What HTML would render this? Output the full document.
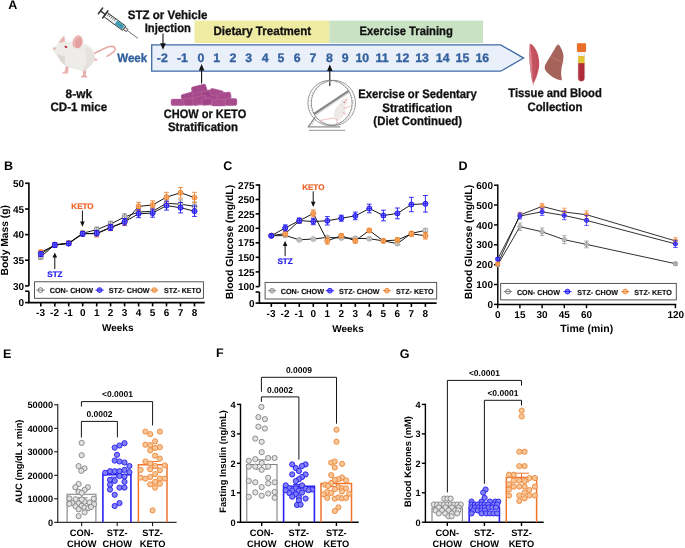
<!DOCTYPE html>
<html lang="en"><head><meta charset="utf-8"><title>Figure</title>
<style>html,body{margin:0;padding:0;background:#fff}svg{display:block}text{font-family:"Liberation Sans",Arial,sans-serif;text-rendering:geometricPrecision}</style>
</head><body>
<svg width="685" height="548" viewBox="0 0 685 548">
<rect width="685" height="548" fill="#fff"/>
<g id="panelA">
<text x="8.2" y="8.9" font-size="12.5" text-anchor="start" fill="#000" stroke="#000" stroke-width="0" font-weight="bold" >A</text>
<rect x="194.5" y="20.6" width="134.8" height="22.4" fill="#EFEBA3"/>
<rect x="329.3" y="20.6" width="153.7" height="22.4" fill="#C9E2C4"/>
<text x="262.3" y="34.8" font-size="12.3" text-anchor="middle" fill="#111" stroke="#111" stroke-width="0.3" font-weight="bold" textLength="97.8" lengthAdjust="spacingAndGlyphs" >Dietary Treatment</text>
<text x="406.2" y="34.8" font-size="12.3" text-anchor="middle" fill="#111" stroke="#111" stroke-width="0.3" font-weight="bold" textLength="93.2" lengthAdjust="spacingAndGlyphs" >Exercise Training</text>
<path d="M151.7 44.9 H500.7 L523.6 58.1 L500.7 71.2 H151.7 Z" fill="#EAF0FA" stroke="#3E6AA6" stroke-width="1.3" stroke-linejoin="miter"/>
<text x="132.2" y="62.3" font-size="12.3" text-anchor="middle" fill="#33609E" stroke="#33609E" stroke-width="0.3" font-weight="bold" textLength="30" lengthAdjust="spacingAndGlyphs" >Week</text>
<text x="162.3" y="62.3" font-size="12.3" text-anchor="middle" fill="#33609E" stroke="#33609E" stroke-width="0.3" font-weight="bold" >-2</text>
<text x="182.4" y="62.3" font-size="12.3" text-anchor="middle" fill="#33609E" stroke="#33609E" stroke-width="0.3" font-weight="bold" >-1</text>
<text x="200.8" y="62.3" font-size="12.3" text-anchor="middle" fill="#33609E" stroke="#33609E" stroke-width="0.3" font-weight="bold" >0</text>
<text x="216.7" y="62.3" font-size="12.3" text-anchor="middle" fill="#33609E" stroke="#33609E" stroke-width="0.3" font-weight="bold" >1</text>
<text x="232.8" y="62.3" font-size="12.3" text-anchor="middle" fill="#33609E" stroke="#33609E" stroke-width="0.3" font-weight="bold" >2</text>
<text x="248.7" y="62.3" font-size="12.3" text-anchor="middle" fill="#33609E" stroke="#33609E" stroke-width="0.3" font-weight="bold" >3</text>
<text x="265.1" y="62.3" font-size="12.3" text-anchor="middle" fill="#33609E" stroke="#33609E" stroke-width="0.3" font-weight="bold" >4</text>
<text x="281" y="62.3" font-size="12.3" text-anchor="middle" fill="#33609E" stroke="#33609E" stroke-width="0.3" font-weight="bold" >5</text>
<text x="297.1" y="62.3" font-size="12.3" text-anchor="middle" fill="#33609E" stroke="#33609E" stroke-width="0.3" font-weight="bold" >6</text>
<text x="313" y="62.3" font-size="12.3" text-anchor="middle" fill="#33609E" stroke="#33609E" stroke-width="0.3" font-weight="bold" >7</text>
<text x="329.3" y="62.3" font-size="12.3" text-anchor="middle" fill="#33609E" stroke="#33609E" stroke-width="0.3" font-weight="bold" >8</text>
<text x="345.2" y="62.3" font-size="12.3" text-anchor="middle" fill="#33609E" stroke="#33609E" stroke-width="0.3" font-weight="bold" >9</text>
<text x="362.3" y="62.3" font-size="12.3" text-anchor="middle" fill="#33609E" stroke="#33609E" stroke-width="0.3" font-weight="bold" >10</text>
<text x="382" y="62.3" font-size="12.3" text-anchor="middle" fill="#33609E" stroke="#33609E" stroke-width="0.3" font-weight="bold" >11</text>
<text x="402.4" y="62.3" font-size="12.3" text-anchor="middle" fill="#33609E" stroke="#33609E" stroke-width="0.3" font-weight="bold" >12</text>
<text x="422.1" y="62.3" font-size="12.3" text-anchor="middle" fill="#33609E" stroke="#33609E" stroke-width="0.3" font-weight="bold" >13</text>
<text x="442.7" y="62.3" font-size="12.3" text-anchor="middle" fill="#33609E" stroke="#33609E" stroke-width="0.3" font-weight="bold" >14</text>
<text x="462.4" y="62.3" font-size="12.3" text-anchor="middle" fill="#33609E" stroke="#33609E" stroke-width="0.3" font-weight="bold" >15</text>
<text x="482.3" y="62.3" font-size="12.3" text-anchor="middle" fill="#33609E" stroke="#33609E" stroke-width="0.3" font-weight="bold" >16</text>
<text x="167.6" y="18.9" font-size="12.3" text-anchor="middle" fill="#111" stroke="#111" stroke-width="0.3" font-weight="bold" textLength="79.6" lengthAdjust="spacingAndGlyphs" >STZ or Vehicle</text>
<text x="167.8" y="32.2" font-size="12.3" text-anchor="middle" fill="#111" stroke="#111" stroke-width="0.3" font-weight="bold" textLength="46.1" lengthAdjust="spacingAndGlyphs" >Injection</text>
<line x1="163" y1="33.5" x2="163" y2="44.3" stroke="#111" stroke-width="1.1"/><path d="M163 49.8 L165.8 43.3 L160.2 43.3 Z" fill="#111"/>
<text x="78.8" y="97.7" font-size="12.3" text-anchor="middle" fill="#111" stroke="#111" stroke-width="0.3" font-weight="bold" textLength="26.5" lengthAdjust="spacingAndGlyphs" >8-wk</text>
<text x="78.8" y="111.1" font-size="12.3" text-anchor="middle" fill="#111" stroke="#111" stroke-width="0.3" font-weight="bold" textLength="56.7" lengthAdjust="spacingAndGlyphs" >CD-1 mice</text>
<line x1="201.6" y1="83.4" x2="201.6" y2="69.6" stroke="#111" stroke-width="1.1"/><path d="M201.6 64.1 L204.4 70.6 L198.79999999999998 70.6 Z" fill="#111"/>
<text x="205" y="118.4" font-size="12.3" text-anchor="middle" fill="#111" stroke="#111" stroke-width="0.3" font-weight="bold" textLength="82.4" lengthAdjust="spacingAndGlyphs" >CHOW or KETO</text>
<text x="203" y="131" font-size="12.3" text-anchor="middle" fill="#111" stroke="#111" stroke-width="0.3" font-weight="bold" textLength="70.1" lengthAdjust="spacingAndGlyphs" >Stratification</text>
<line x1="329.8" y1="86" x2="329.8" y2="70.0" stroke="#111" stroke-width="1.1"/><path d="M329.8 64.5 L332.6 71.0 L327.0 71.0 Z" fill="#111"/>
<text x="417.5" y="98.2" font-size="12.3" text-anchor="middle" fill="#111" stroke="#111" stroke-width="0.3" font-weight="bold" textLength="118.5" lengthAdjust="spacingAndGlyphs" >Exercise or Sedentary</text>
<text x="417.3" y="111.6" font-size="12.3" text-anchor="middle" fill="#111" stroke="#111" stroke-width="0.3" font-weight="bold" textLength="70.1" lengthAdjust="spacingAndGlyphs" >Stratification</text>
<text x="417.7" y="125.2" font-size="12.3" text-anchor="middle" fill="#111" stroke="#111" stroke-width="0.3" font-weight="bold" textLength="88.7" lengthAdjust="spacingAndGlyphs" >(Diet Continued)</text>
<text x="555" y="97" font-size="12.3" text-anchor="middle" fill="#111" stroke="#111" stroke-width="0.3" font-weight="bold" textLength="93.5" lengthAdjust="spacingAndGlyphs" >Tissue and Blood</text>
<text x="554.9" y="110.8" font-size="12.3" text-anchor="middle" fill="#111" stroke="#111" stroke-width="0.3" font-weight="bold" textLength="54.9" lengthAdjust="spacingAndGlyphs" >Collection</text>
<g id="mouse">
<path d="M93.5 53.8 C99.5 51.2 104.5 47.6 109.8 46.5 C113.8 45.8 115.8 47.6 115 50.1 C114.3 52.4 110.5 54.2 107 56.2" fill="none" stroke="#E7A7A4" stroke-width="1.6" stroke-linecap="round"/>
<path d="M93 57.6 L97.6 59.2 L96.8 60.8 L92.6 60.2 Z" fill="#E9AEAB"/>
<path d="M66 63.5 L65 71.2 L62 72.8 L62.6 73.6 L68 73.6 L68.8 65 Z" fill="#E9B0AD"/>
<path d="M82.4 67.5 L83.2 74.8 L80.8 76.6 L81.4 77.6 L87.8 77.6 L85.8 75 L86.4 67.5 Z" fill="#E9B0AD"/>
<path d="M57.6 43.8 C59 40 61.8 36.8 64.4 35.2 C65.5 37.6 65.9 40.2 65.6 42.6 Z" fill="#ECE6E2"/>
<path d="M59 43.2 C60.3 40.2 62.2 37.8 63.9 36.5 C64.6 38.4 64.8 40.4 64.5 42 Z" fill="#E9B1AE"/>
<path d="M53.4 48.2 C54.8 45.6 58.6 43.2 63.2 42.1 C68 41 73 41.2 77.6 42.6 C83.5 43 89.5 45 92.6 49.2 C95.6 53.6 95.6 60.4 92 64.6 C89.4 67.6 86.5 69.6 84.4 71 C81 70.6 76 69.4 72 68.4 C69 67.6 67 66.6 65.6 65.8 C62 63.6 59.6 60 57.8 56.4 C55.4 54.4 52.8 51.6 53.4 48.2 Z" fill="#EEECE9"/>
<path d="M84 47 C89 47.5 93.2 50.5 94.2 55.5 C95 60 92.5 64.4 89 67 C87.4 68.4 85.8 69.6 84.4 71 C83.4 70.9 82.4 70.7 81.4 70.5 C85 67.5 87 63 86.6 58 C86.3 53.5 85.5 50 84 47 Z" fill="#E5E2DE"/>
<path d="M56.5 53.6 C59 55.6 62.5 56.2 65.5 55.4 C64.2 58.5 64.4 62.6 65.6 65.8 C62 63.6 59.6 60 57.8 56.4 Z" fill="#DCD8D3"/>
<ellipse cx="77.6" cy="42.2" rx="5.1" ry="7" transform="rotate(16 77.6 42.2)" fill="#EBB5B2"/>
<ellipse cx="78.4" cy="43" rx="3.4" ry="5.3" transform="rotate(16 78.4 43)" fill="#E4A09E"/>
<path d="M73.6 47.5 C76 49.6 79.6 49.8 82.4 48" fill="none" stroke="#EEECE9" stroke-width="1.6"/>
<ellipse cx="54.5" cy="48.6" rx="1.5" ry="1.1" fill="#E8AAAA"/>
<path d="M56 49.5 L50.5 46.2 M56 50 L50 49.2 M57.5 50.5 L61 52.5" stroke="#e4e0dc" stroke-width="0.3" fill="none"/>
<ellipse cx="65.9" cy="46.9" rx="1.5" ry="1.05" transform="rotate(25 65.9 46.9)" fill="#B8283A"/>
</g>
<g id="syringe" transform="translate(100.5 10.9) rotate(36.3)">
<line x1="0" y1="-3.6" x2="0" y2="3.6" stroke="#333" stroke-width="1.5" stroke-linecap="round"/>
<line x1="0" y1="0" x2="6" y2="0" stroke="#333" stroke-width="1.4"/>
<rect x="6.2" y="-2.7" width="23.2" height="5.4" rx="0.6" fill="#EEF0F0" stroke="#333" stroke-width="0.9"/>
<rect x="19.2" y="-2.1" width="9" height="4.2" fill="#3B9AB4"/>
<line x1="5.9" y1="-4.5" x2="5.9" y2="4.5" stroke="#333" stroke-width="1.5" stroke-linecap="round"/>
<path d="M8.5 -2.6 v2.4 M10.6 -2.6 v2.4 M12.7 -2.6 v2.4 M14.8 -2.6 v2.4 M16.9 -2.6 v2.4" stroke="#333" stroke-width="0.65"/>
<rect x="29.5" y="-1.5" width="3.6" height="3" rx="0.6" fill="#E8E8E8" stroke="#333" stroke-width="0.8"/>
<line x1="33.1" y1="0" x2="46.4" y2="0" stroke="#444" stroke-width="0.7"/>
</g>
<g id="chow"><polygon points="172.2,100.3 182.3,99.5 181.6,95.6 192.1,91.8 192.1,87.4 204.7,84.5 207.3,90.6 211.7,89.7 223.2,92.5 229.5,93.2 230.6,98.8 236.0,99.5 236.0,104.8 172.2,104.8" fill="#A2468A" stroke="#A2468A" stroke-width="0.8" stroke-linejoin="round"/><rect x="191.8" y="85.5" width="14.6" height="7.0" rx="1.6" transform="rotate(-15 199.1 89.0)" fill="#A5488A" stroke="#B96AA4" stroke-width="0.5"/><rect x="210.0" y="89.5" width="13.1" height="6.8" rx="1.6" transform="rotate(14 216.6 92.9)" fill="#A84B8D" stroke="#B96AA4" stroke-width="0.5"/><rect x="181.3" y="93.4" width="11.7" height="5.6" rx="1.6" transform="rotate(-15 187.2 96.2)" fill="#A5488A" stroke="#B96AA4" stroke-width="0.5"/><rect x="201.2" y="91.3" width="9.3" height="7.0" rx="1.6" transform="rotate(-10 205.9 94.8)" fill="#A04386" stroke="#B96AA4" stroke-width="0.5"/><rect x="217.0" y="93.0" width="14.0" height="6.4" rx="1.6" transform="rotate(-12 224.0 96.2)" fill="#A84B8D" stroke="#B96AA4" stroke-width="0.5"/><rect x="171.0" y="99.1" width="13.1" height="6.4" rx="1.6" transform="rotate(0 177.6 102.3)" fill="#AB4F90" stroke="#B96AA4" stroke-width="0.5"/><rect x="183.8" y="98.6" width="9.9" height="6.8" rx="1.6" transform="rotate(0 188.7 102.0)" fill="#A5488A" stroke="#B96AA4" stroke-width="0.5"/><rect x="192.8" y="96.1" width="14.0" height="8.2" rx="1.6" transform="rotate(-15 199.8 100.2)" fill="#A84B8D" stroke="#B96AA4" stroke-width="0.5"/><rect x="202.3" y="98.8" width="9.3" height="6.1" rx="1.6" transform="rotate(-8 207.0 101.8)" fill="#A04386" stroke="#B96AA4" stroke-width="0.5"/><rect x="211.7" y="99.2" width="14.0" height="6.8" rx="1.6" transform="rotate(0 218.7 102.6)" fill="#AB4F90" stroke="#B96AA4" stroke-width="0.5"/><rect x="225.2" y="98.6" width="11.7" height="6.8" rx="1.6" transform="rotate(0 231.0 102.0)" fill="#A84B8D" stroke="#B96AA4" stroke-width="0.5"/></g>
<g id="wheel" fill="none" stroke="#777">
<path d="M315.2 117.2 L308.2 126.9 H340.4" stroke="#8e8e8e" stroke-width="1.3" stroke-linejoin="round"/>
<path d="M316.6 117.8 L310.6 126.2" stroke="#b5b5b5" stroke-width="0.6"/>
<path d="M308.9 130.4 H345.1" stroke="#a8a8a8" stroke-width="1.1"/>
<circle cx="331.7" cy="102.9" r="21.3" stroke="#b0b0b0" stroke-width="2" stroke-dasharray="0.45 2.1"/>
<ellipse cx="330" cy="102.9" rx="22.1" ry="22.6" stroke-width="0.75"/>
<ellipse cx="333.4" cy="102.9" rx="22.1" ry="22.6" stroke-width="0.75"/>
<path d="M335.7 118.9 C331 117.2 325 120.2 319.3 120.4" stroke="#E8A3A0" stroke-width="0.7"/>
<ellipse cx="339.5" cy="112.2" rx="4.6" ry="8.6" transform="rotate(24 339.5 112.2)" fill="#EDEAE7" stroke="#d5d1cd" stroke-width="0.3"/>
<ellipse cx="343.8" cy="102.8" rx="3" ry="3.9" transform="rotate(35 343.8 102.8)" fill="#EFECE9" stroke="#d5d1cd" stroke-width="0.3"/>
<ellipse cx="346.3" cy="99.9" rx="1" ry="1.5" transform="rotate(30 346.3 99.9)" fill="#EDC2BF" stroke="none"/>
<path d="M343.5 108.4 L347 107.6 L350.6 105.8 M342.6 112.4 L345.6 113.4 L344.6 115 M336.6 118.6 L337.4 123.2" stroke="#E8A3A0" stroke-width="0.7"/>
<circle cx="344.2" cy="102.4" r="0.55" fill="#B52536" stroke="none"/>
<path d="M313.8 114.1 L348.6 90.9" stroke="#858585" stroke-width="2.3"/>
<path d="M314.3 115.9 L349.6 92.3" stroke="#b0b0b0" stroke-width="0.7"/>
</g>
<g id="tissue">
<path d="M529.9 43.8 C529.2 50 529.3 60 530.2 68 C530.9 74 532 80 532.7 83 L533.1 85.9 L533.8 83 C536 79 538.6 72 539.2 65.5 C539.6 58 537.5 50.5 533 45.5 C532 44.5 530.8 43.9 529.9 43.8 Z" fill="#C5535F"/>
<path d="M529.9 43.8 C529.2 50 529.3 60 530.2 68 C530.9 74 532 80 532.7 83 C532.4 72 532 54 529.9 43.8 Z" fill="#D98690"/>
<path d="M535 50 C537 56 537.6 66 535.6 76" fill="none" stroke="#B84450" stroke-width="0.5"/>
<path d="M532.6 82.6 L533.1 86.3 L533.9 82.6 Z" fill="#ddd5d5"/>
<path d="M558 44.3 C559.5 45 562 49 563.2 53.7 C563.8 57 563.2 61 562.4 64 C561.4 68 561 72 561.2 75 C561.4 77.5 561.8 79 562 80.2 C559.5 80 556 79 553.3 77.4 C550 75.5 546.5 72.5 545 69.5 C544.2 67.5 545 64.5 546.5 62.5 C549 58.5 552 53 554.4 49.4 C555.6 47.3 556.8 45.2 558 44.3 Z" fill="#A5635B"/>
<path d="M551 56.6 C555 59 559.5 61.4 564.2 62.8" fill="none" stroke="#D09572" stroke-width="0.5"/>
<rect x="578" y="50" width="6.7" height="31.3" rx="3.2" fill="#F1F1F1" stroke="#cfcfcf" stroke-width="0.4"/>
<path d="M578.2 63 H584.5 V78 A3.15 3.15 0 0 1 578.2 78 Z" fill="#B02A3A"/>
<path d="M578.2 63 H579.4 V80 A3.15 3.15 0 0 1 578.2 78 Z" fill="#C4505C"/>
<rect x="578.2" y="56" width="6.3" height="7.2" fill="#E2C233"/>
<path d="M577.8 43.2 H585.2 A0.9 0.9 0 0 1 586.1 44.1 V50.4 A1.6 1.6 0 0 1 584.5 52 H578.5 A1.6 1.6 0 0 1 576.9 50.4 V44.1 A0.9 0.9 0 0 1 577.8 43.2 Z" fill="#E96F2A"/>
</g>
</g>
<g id="panelB">
<text x="4.0" y="170.1" font-size="12.5" text-anchor="start" fill="#000" font-weight="bold" >B</text>
<path d="M28.9 182.5 V285.9 M28.9 291.2 V302.6" stroke="#000" stroke-width="1.6" fill="none"/>
<line x1="25.099999999999998" y1="183.3" x2="28.9" y2="183.3" stroke="#000" stroke-width="1.6"/>
<text x="24.1" y="186.9" font-size="10" text-anchor="end" fill="#000" font-weight="bold" >50</text>
<line x1="25.099999999999998" y1="209.0" x2="28.9" y2="209.0" stroke="#000" stroke-width="1.6"/>
<text x="24.1" y="212.6" font-size="10" text-anchor="end" fill="#000" font-weight="bold" >45</text>
<line x1="25.099999999999998" y1="234.6" x2="28.9" y2="234.6" stroke="#000" stroke-width="1.6"/>
<text x="24.1" y="238.2" font-size="10" text-anchor="end" fill="#000" font-weight="bold" >40</text>
<line x1="25.099999999999998" y1="260.2" x2="28.9" y2="260.2" stroke="#000" stroke-width="1.6"/>
<text x="24.1" y="263.8" font-size="10" text-anchor="end" fill="#000" font-weight="bold" >35</text>
<line x1="25.099999999999998" y1="285.9" x2="28.9" y2="285.9" stroke="#000" stroke-width="1.6"/>
<text x="24.1" y="289.5" font-size="10" text-anchor="end" fill="#000" font-weight="bold" >30</text>
<line x1="25.099999999999998" y1="291.2" x2="28.9" y2="291.2" stroke="#000" stroke-width="1.6"/>
<line x1="25.099999999999998" y1="302.6" x2="28.9" y2="302.6" stroke="#000" stroke-width="1.6"/>
<text x="24.1" y="306.2" font-size="10" text-anchor="end" fill="#000" font-weight="bold" >0</text>
<line x1="28.099999999999998" y1="302.6" x2="204.7" y2="302.6" stroke="#000" stroke-width="1.6"/>
<line x1="40.8" y1="302.6" x2="40.8" y2="306.4" stroke="#000" stroke-width="1.6"/>
<text x="40.5" y="316.3" font-size="10" text-anchor="middle" fill="#000" font-weight="bold" >-3</text>
<line x1="54.8" y1="302.6" x2="54.8" y2="306.4" stroke="#000" stroke-width="1.6"/>
<text x="54.5" y="316.3" font-size="10" text-anchor="middle" fill="#000" font-weight="bold" >-2</text>
<line x1="68.7" y1="302.6" x2="68.7" y2="306.4" stroke="#000" stroke-width="1.6"/>
<text x="68.4" y="316.3" font-size="10" text-anchor="middle" fill="#000" font-weight="bold" >-1</text>
<line x1="82.7" y1="302.6" x2="82.7" y2="306.4" stroke="#000" stroke-width="1.6"/>
<text x="82.7" y="316.3" font-size="10" text-anchor="middle" fill="#000" font-weight="bold" >0</text>
<line x1="96.7" y1="302.6" x2="96.7" y2="306.4" stroke="#000" stroke-width="1.6"/>
<text x="96.7" y="316.3" font-size="10" text-anchor="middle" fill="#000" font-weight="bold" >1</text>
<line x1="110.6" y1="302.6" x2="110.6" y2="306.4" stroke="#000" stroke-width="1.6"/>
<text x="110.6" y="316.3" font-size="10" text-anchor="middle" fill="#000" font-weight="bold" >2</text>
<line x1="124.6" y1="302.6" x2="124.6" y2="306.4" stroke="#000" stroke-width="1.6"/>
<text x="124.6" y="316.3" font-size="10" text-anchor="middle" fill="#000" font-weight="bold" >3</text>
<line x1="138.6" y1="302.6" x2="138.6" y2="306.4" stroke="#000" stroke-width="1.6"/>
<text x="138.6" y="316.3" font-size="10" text-anchor="middle" fill="#000" font-weight="bold" >4</text>
<line x1="152.6" y1="302.6" x2="152.6" y2="306.4" stroke="#000" stroke-width="1.6"/>
<text x="152.6" y="316.3" font-size="10" text-anchor="middle" fill="#000" font-weight="bold" >5</text>
<line x1="166.5" y1="302.6" x2="166.5" y2="306.4" stroke="#000" stroke-width="1.6"/>
<text x="166.5" y="316.3" font-size="10" text-anchor="middle" fill="#000" font-weight="bold" >6</text>
<line x1="180.5" y1="302.6" x2="180.5" y2="306.4" stroke="#000" stroke-width="1.6"/>
<text x="180.5" y="316.3" font-size="10" text-anchor="middle" fill="#000" font-weight="bold" >7</text>
<line x1="194.5" y1="302.6" x2="194.5" y2="306.4" stroke="#000" stroke-width="1.6"/>
<text x="194.5" y="316.3" font-size="10" text-anchor="middle" fill="#000" font-weight="bold" >8</text>
<text x="117.7" y="330.5" font-size="10" text-anchor="middle" fill="#000" font-weight="bold" >Weeks</text>
<text x="8.5" y="240.2" font-size="10.3" text-anchor="middle" fill="#000" font-weight="bold" transform="rotate(-90 8.5 240.2)">Body Mass (g)</text>
<path d="M40.8 257.0 L54.8 244.6 L68.7 243.2 L82.7 233.2 L96.7 229.7 L110.6 224.0 L124.6 217.0 L138.6 212.0 L152.6 211.3 L166.5 203.3 L180.5 204.2 L194.5 206.3" fill="none" stroke="#0c0c0c" stroke-width="0.95"/><circle cx="40.8" cy="257.0" r="2.5" fill="#f4f4f4" stroke="#8c8c8c" stroke-width="1.0"/><path d="M38.3 257.0 H43.3" stroke="#8c8c8c" stroke-width="0.7" fill="none"/><path d="M40.8 254.8 V259.2 M38.4 254.8 H43.2 M38.4 259.2 H43.2" stroke="#8c8c8c" stroke-width="0.9" fill="none"/><circle cx="54.8" cy="244.6" r="2.5" fill="#f4f4f4" stroke="#8c8c8c" stroke-width="1.0"/><path d="M52.3 244.6 H57.3" stroke="#8c8c8c" stroke-width="0.7" fill="none"/><path d="M54.8 242.5 V246.7 M52.4 242.5 H57.2 M52.4 246.7 H57.2" stroke="#8c8c8c" stroke-width="0.9" fill="none"/><circle cx="68.7" cy="243.2" r="2.5" fill="#f4f4f4" stroke="#8c8c8c" stroke-width="1.0"/><path d="M66.2 243.2 H71.2" stroke="#8c8c8c" stroke-width="0.7" fill="none"/><path d="M68.7 241.2 V245.2 M66.3 241.2 H71.1 M66.3 245.2 H71.1" stroke="#8c8c8c" stroke-width="0.9" fill="none"/><circle cx="82.7" cy="233.2" r="2.5" fill="#f4f4f4" stroke="#8c8c8c" stroke-width="1.0"/><path d="M80.2 233.2 H85.2" stroke="#8c8c8c" stroke-width="0.7" fill="none"/><path d="M82.7 231.1 V235.3 M80.3 231.1 H85.1 M80.3 235.3 H85.1" stroke="#8c8c8c" stroke-width="0.9" fill="none"/><circle cx="96.7" cy="229.7" r="2.5" fill="#f4f4f4" stroke="#8c8c8c" stroke-width="1.0"/><path d="M94.2 229.7 H99.2" stroke="#8c8c8c" stroke-width="0.7" fill="none"/><path d="M96.7 227.1 V232.3 M94.3 227.1 H99.1 M94.3 232.3 H99.1" stroke="#8c8c8c" stroke-width="0.9" fill="none"/><circle cx="110.6" cy="224.0" r="2.5" fill="#f4f4f4" stroke="#8c8c8c" stroke-width="1.0"/><path d="M108.1 224.0 H113.1" stroke="#8c8c8c" stroke-width="0.7" fill="none"/><path d="M110.6 221.2 V226.8 M108.2 221.2 H113.0 M108.2 226.8 H113.0" stroke="#8c8c8c" stroke-width="0.9" fill="none"/><circle cx="124.6" cy="217.0" r="2.5" fill="#f4f4f4" stroke="#8c8c8c" stroke-width="1.0"/><path d="M122.1 217.0 H127.1" stroke="#8c8c8c" stroke-width="0.7" fill="none"/><path d="M124.6 213.8 V220.2 M122.2 213.8 H127.0 M122.2 220.2 H127.0" stroke="#8c8c8c" stroke-width="0.9" fill="none"/><circle cx="138.6" cy="212.0" r="2.5" fill="#f4f4f4" stroke="#8c8c8c" stroke-width="1.0"/><path d="M136.1 212.0 H141.1" stroke="#8c8c8c" stroke-width="0.7" fill="none"/><path d="M138.6 208.5 V215.5 M136.2 208.5 H141.0 M136.2 215.5 H141.0" stroke="#8c8c8c" stroke-width="0.9" fill="none"/><circle cx="152.6" cy="211.3" r="2.5" fill="#f4f4f4" stroke="#8c8c8c" stroke-width="1.0"/><path d="M150.1 211.3 H155.1" stroke="#8c8c8c" stroke-width="0.7" fill="none"/><path d="M152.6 207.7 V214.9 M150.2 207.7 H155.0 M150.2 214.9 H155.0" stroke="#8c8c8c" stroke-width="0.9" fill="none"/><circle cx="166.5" cy="203.3" r="2.5" fill="#f4f4f4" stroke="#8c8c8c" stroke-width="1.0"/><path d="M164.0 203.3 H169.0" stroke="#8c8c8c" stroke-width="0.7" fill="none"/><path d="M166.5 199.3 V207.3 M164.1 199.3 H168.9 M164.1 207.3 H168.9" stroke="#8c8c8c" stroke-width="0.9" fill="none"/><circle cx="180.5" cy="204.2" r="2.5" fill="#f4f4f4" stroke="#8c8c8c" stroke-width="1.0"/><path d="M178.0 204.2 H183.0" stroke="#8c8c8c" stroke-width="0.7" fill="none"/><path d="M180.5 199.9 V208.5 M178.1 199.9 H182.9 M178.1 208.5 H182.9" stroke="#8c8c8c" stroke-width="0.9" fill="none"/><circle cx="194.5" cy="206.3" r="2.5" fill="#f4f4f4" stroke="#8c8c8c" stroke-width="1.0"/><path d="M192.0 206.3 H197.0" stroke="#8c8c8c" stroke-width="0.7" fill="none"/><path d="M194.5 202.0 V210.6 M192.1 202.0 H196.9 M192.1 210.6 H196.9" stroke="#8c8c8c" stroke-width="0.9" fill="none"/>
<path d="M40.8 252.3 L54.8 245.2 L68.7 243.2 L82.7 233.6 L96.7 233.8 L110.6 227.6 L124.6 222.3 L138.6 206.4 L152.6 205.0 L166.5 197.1 L180.5 192.8 L194.5 197.5" fill="none" stroke="#0c0c0c" stroke-width="0.95"/><circle cx="40.8" cy="252.3" r="2.5" fill="#f7c396" stroke="#ee8530" stroke-width="1.0"/><path d="M38.3 252.3 H43.3" stroke="#ee8530" stroke-width="0.7" fill="none"/><path d="M40.8 249.9 V254.7 M38.4 249.9 H43.2 M38.4 254.7 H43.2" stroke="#ee8530" stroke-width="0.9" fill="none"/><circle cx="54.8" cy="245.2" r="2.5" fill="#f7c396" stroke="#ee8530" stroke-width="1.0"/><path d="M52.3 245.2 H57.3" stroke="#ee8530" stroke-width="0.7" fill="none"/><path d="M54.8 242.9 V247.5 M52.4 242.9 H57.2 M52.4 247.5 H57.2" stroke="#ee8530" stroke-width="0.9" fill="none"/><circle cx="68.7" cy="243.2" r="2.5" fill="#f7c396" stroke="#ee8530" stroke-width="1.0"/><path d="M66.2 243.2 H71.2" stroke="#ee8530" stroke-width="0.7" fill="none"/><path d="M68.7 241.1 V245.3 M66.3 241.1 H71.1 M66.3 245.3 H71.1" stroke="#ee8530" stroke-width="0.9" fill="none"/><circle cx="82.7" cy="233.6" r="2.5" fill="#f7c396" stroke="#ee8530" stroke-width="1.0"/><path d="M80.2 233.6 H85.2" stroke="#ee8530" stroke-width="0.7" fill="none"/><path d="M82.7 231.2 V236.0 M80.3 231.2 H85.1 M80.3 236.0 H85.1" stroke="#ee8530" stroke-width="0.9" fill="none"/><circle cx="96.7" cy="233.8" r="2.5" fill="#f7c396" stroke="#ee8530" stroke-width="1.0"/><path d="M94.2 233.8 H99.2" stroke="#ee8530" stroke-width="0.7" fill="none"/><path d="M96.7 230.6 V237.0 M94.3 230.6 H99.1 M94.3 237.0 H99.1" stroke="#ee8530" stroke-width="0.9" fill="none"/><circle cx="110.6" cy="227.6" r="2.5" fill="#f7c396" stroke="#ee8530" stroke-width="1.0"/><path d="M108.1 227.6 H113.1" stroke="#ee8530" stroke-width="0.7" fill="none"/><path d="M110.6 224.5 V230.7 M108.2 224.5 H113.0 M108.2 230.7 H113.0" stroke="#ee8530" stroke-width="0.9" fill="none"/><circle cx="124.6" cy="222.3" r="2.5" fill="#f7c396" stroke="#ee8530" stroke-width="1.0"/><path d="M122.1 222.3 H127.1" stroke="#ee8530" stroke-width="0.7" fill="none"/><path d="M124.6 218.9 V225.7 M122.2 218.9 H127.0 M122.2 225.7 H127.0" stroke="#ee8530" stroke-width="0.9" fill="none"/><circle cx="138.6" cy="206.4" r="2.5" fill="#f7c396" stroke="#ee8530" stroke-width="1.0"/><path d="M136.1 206.4 H141.1" stroke="#ee8530" stroke-width="0.7" fill="none"/><path d="M138.6 202.3 V210.5 M136.2 202.3 H141.0 M136.2 210.5 H141.0" stroke="#ee8530" stroke-width="0.9" fill="none"/><circle cx="152.6" cy="205.0" r="2.5" fill="#f7c396" stroke="#ee8530" stroke-width="1.0"/><path d="M150.1 205.0 H155.1" stroke="#ee8530" stroke-width="0.7" fill="none"/><path d="M152.6 200.8 V209.2 M150.2 200.8 H155.0 M150.2 209.2 H155.0" stroke="#ee8530" stroke-width="0.9" fill="none"/><circle cx="166.5" cy="197.1" r="2.5" fill="#f7c396" stroke="#ee8530" stroke-width="1.0"/><path d="M164.0 197.1 H169.0" stroke="#ee8530" stroke-width="0.7" fill="none"/><path d="M166.5 192.3 V201.9 M164.1 192.3 H168.9 M164.1 201.9 H168.9" stroke="#ee8530" stroke-width="0.9" fill="none"/><circle cx="180.5" cy="192.8" r="2.5" fill="#f7c396" stroke="#ee8530" stroke-width="1.0"/><path d="M178.0 192.8 H183.0" stroke="#ee8530" stroke-width="0.7" fill="none"/><path d="M180.5 187.5 V198.1 M178.1 187.5 H182.9 M178.1 198.1 H182.9" stroke="#ee8530" stroke-width="0.9" fill="none"/><circle cx="194.5" cy="197.5" r="2.5" fill="#f7c396" stroke="#ee8530" stroke-width="1.0"/><path d="M192.0 197.5 H197.0" stroke="#ee8530" stroke-width="0.7" fill="none"/><path d="M194.5 192.3 V202.7 M192.1 192.3 H196.9 M192.1 202.7 H196.9" stroke="#ee8530" stroke-width="0.9" fill="none"/>
<path d="M40.8 254.0 L54.8 245.0 L68.7 243.5 L82.7 233.8 L96.7 233.2 L110.6 227.4 L124.6 221.8 L138.6 213.8 L152.6 213.1 L166.5 205.6 L180.5 207.7 L194.5 211.2" fill="none" stroke="#0c0c0c" stroke-width="0.95"/><circle cx="40.8" cy="254.0" r="2.5" fill="#807cf7" stroke="#2016f2" stroke-width="1.0"/><path d="M38.3 254.0 H43.3" stroke="#2016f2" stroke-width="0.7" fill="none"/><path d="M40.8 251.6 V256.4 M38.4 251.6 H43.2 M38.4 256.4 H43.2" stroke="#2016f2" stroke-width="0.9" fill="none"/><circle cx="54.8" cy="245.0" r="2.5" fill="#807cf7" stroke="#2016f2" stroke-width="1.0"/><path d="M52.3 245.0 H57.3" stroke="#2016f2" stroke-width="0.7" fill="none"/><path d="M54.8 242.6 V247.4 M52.4 242.6 H57.2 M52.4 247.4 H57.2" stroke="#2016f2" stroke-width="0.9" fill="none"/><circle cx="68.7" cy="243.5" r="2.5" fill="#807cf7" stroke="#2016f2" stroke-width="1.0"/><path d="M66.2 243.5 H71.2" stroke="#2016f2" stroke-width="0.7" fill="none"/><path d="M68.7 241.4 V245.6 M66.3 241.4 H71.1 M66.3 245.6 H71.1" stroke="#2016f2" stroke-width="0.9" fill="none"/><circle cx="82.7" cy="233.8" r="2.5" fill="#807cf7" stroke="#2016f2" stroke-width="1.0"/><path d="M80.2 233.8 H85.2" stroke="#2016f2" stroke-width="0.7" fill="none"/><path d="M82.7 231.5 V236.1 M80.3 231.5 H85.1 M80.3 236.1 H85.1" stroke="#2016f2" stroke-width="0.9" fill="none"/><circle cx="96.7" cy="233.2" r="2.5" fill="#807cf7" stroke="#2016f2" stroke-width="1.0"/><path d="M94.2 233.2 H99.2" stroke="#2016f2" stroke-width="0.7" fill="none"/><path d="M96.7 230.5 V235.9 M94.3 230.5 H99.1 M94.3 235.9 H99.1" stroke="#2016f2" stroke-width="0.9" fill="none"/><circle cx="110.6" cy="227.4" r="2.5" fill="#807cf7" stroke="#2016f2" stroke-width="1.0"/><path d="M108.1 227.4 H113.1" stroke="#2016f2" stroke-width="0.7" fill="none"/><path d="M110.6 224.4 V230.4 M108.2 224.4 H113.0 M108.2 230.4 H113.0" stroke="#2016f2" stroke-width="0.9" fill="none"/><circle cx="124.6" cy="221.8" r="2.5" fill="#807cf7" stroke="#2016f2" stroke-width="1.0"/><path d="M122.1 221.8 H127.1" stroke="#2016f2" stroke-width="0.7" fill="none"/><path d="M124.6 218.5 V225.1 M122.2 218.5 H127.0 M122.2 225.1 H127.0" stroke="#2016f2" stroke-width="0.9" fill="none"/><circle cx="138.6" cy="213.8" r="2.5" fill="#807cf7" stroke="#2016f2" stroke-width="1.0"/><path d="M136.1 213.8 H141.1" stroke="#2016f2" stroke-width="0.7" fill="none"/><path d="M138.6 209.9 V217.7 M136.2 209.9 H141.0 M136.2 217.7 H141.0" stroke="#2016f2" stroke-width="0.9" fill="none"/><circle cx="152.6" cy="213.1" r="2.5" fill="#807cf7" stroke="#2016f2" stroke-width="1.0"/><path d="M150.1 213.1 H155.1" stroke="#2016f2" stroke-width="0.7" fill="none"/><path d="M152.6 209.0 V217.2 M150.2 209.0 H155.0 M150.2 217.2 H155.0" stroke="#2016f2" stroke-width="0.9" fill="none"/><circle cx="166.5" cy="205.6" r="2.5" fill="#807cf7" stroke="#2016f2" stroke-width="1.0"/><path d="M164.0 205.6 H169.0" stroke="#2016f2" stroke-width="0.7" fill="none"/><path d="M166.5 201.1 V210.1 M164.1 201.1 H168.9 M164.1 210.1 H168.9" stroke="#2016f2" stroke-width="0.9" fill="none"/><circle cx="180.5" cy="207.7" r="2.5" fill="#807cf7" stroke="#2016f2" stroke-width="1.0"/><path d="M178.0 207.7 H183.0" stroke="#2016f2" stroke-width="0.7" fill="none"/><path d="M180.5 202.5 V212.9 M178.1 202.5 H182.9 M178.1 212.9 H182.9" stroke="#2016f2" stroke-width="0.9" fill="none"/><circle cx="194.5" cy="211.2" r="2.5" fill="#807cf7" stroke="#2016f2" stroke-width="1.0"/><path d="M192.0 211.2 H197.0" stroke="#2016f2" stroke-width="0.7" fill="none"/><path d="M194.5 206.0 V216.4 M192.1 206.0 H196.9 M192.1 216.4 H196.9" stroke="#2016f2" stroke-width="0.9" fill="none"/>
<text x="82.5" y="208.7" font-size="8.1" text-anchor="middle" fill="#f0642a" font-weight="bold" stroke="#f0642a" stroke-width="0.2">KETO</text>
<line x1="82.4" y1="210.6" x2="82.4" y2="222.60000000000002" stroke="#111" stroke-width="1.0"/><path d="M82.4 226.8 L84.7 221.60000000000002 L80.10000000000001 221.60000000000002 Z" fill="#111"/>
<text x="54.9" y="276.7" font-size="8.1" text-anchor="middle" fill="#241cf0" font-weight="bold" stroke="#241cf0" stroke-width="0.2">STZ</text>
<line x1="54.8" y1="269" x2="54.8" y2="256.6" stroke="#111" stroke-width="1.0"/><path d="M54.8 252.4 L57.099999999999994 257.6 L52.5 257.6 Z" fill="#111"/>
<rect x="34.5" y="281.8" width="168.9" height="16.5" fill="#fff" stroke="#444" stroke-width="0.9"/><circle cx="40.5" cy="290.1" r="2.4" fill="#f4f4f4" stroke="#707070" stroke-width="0.9"/><line x1="36.3" y1="290.1" x2="44.7" y2="290.1" stroke="#707070" stroke-width="0.9"/><text x="49.7" y="292.9" font-size="7.3" font-weight="bold" fill="#111" stroke="#111" stroke-width="0.15" textLength="43.3" lengthAdjust="spacingAndGlyphs">CON- CHOW</text><circle cx="99.6" cy="290.1" r="2.4" fill="#807cf7" stroke="#2016f2" stroke-width="0.9"/><line x1="95.4" y1="290.1" x2="103.8" y2="290.1" stroke="#2016f2" stroke-width="0.9"/><text x="108.8" y="292.9" font-size="7.3" font-weight="bold" fill="#111" stroke="#111" stroke-width="0.15" textLength="40.7" lengthAdjust="spacingAndGlyphs">STZ- CHOW</text><circle cx="154.3" cy="290.1" r="2.4" fill="#f7c396" stroke="#ee8530" stroke-width="0.9"/><line x1="150.1" y1="290.1" x2="158.5" y2="290.1" stroke="#ee8530" stroke-width="0.9"/><text x="164.0" y="292.9" font-size="7.3" font-weight="bold" fill="#111" stroke="#111" stroke-width="0.15" textLength="37.3" lengthAdjust="spacingAndGlyphs">STZ- KETO</text>
</g>
<g id="panelC">
<text x="223.2" y="170.0" font-size="12.5" text-anchor="start" fill="#000" font-weight="bold" >C</text>
<path d="M259.4 184.2 V286.6 M259.4 292 V303.1" stroke="#000" stroke-width="1.6" fill="none"/>
<line x1="255.59999999999997" y1="185.0" x2="259.4" y2="185.0" stroke="#000" stroke-width="1.6"/>
<text x="254.6" y="188.6" font-size="10" text-anchor="end" fill="#000" font-weight="bold" >275</text>
<line x1="255.59999999999997" y1="199.5" x2="259.4" y2="199.5" stroke="#000" stroke-width="1.6"/>
<text x="254.6" y="203.1" font-size="10" text-anchor="end" fill="#000" font-weight="bold" >250</text>
<line x1="255.59999999999997" y1="213.9" x2="259.4" y2="213.9" stroke="#000" stroke-width="1.6"/>
<text x="254.6" y="217.5" font-size="10" text-anchor="end" fill="#000" font-weight="bold" >225</text>
<line x1="255.59999999999997" y1="228.3" x2="259.4" y2="228.3" stroke="#000" stroke-width="1.6"/>
<text x="254.6" y="231.9" font-size="10" text-anchor="end" fill="#000" font-weight="bold" >200</text>
<line x1="255.59999999999997" y1="242.8" x2="259.4" y2="242.8" stroke="#000" stroke-width="1.6"/>
<text x="254.6" y="246.4" font-size="10" text-anchor="end" fill="#000" font-weight="bold" >175</text>
<line x1="255.59999999999997" y1="257.3" x2="259.4" y2="257.3" stroke="#000" stroke-width="1.6"/>
<text x="254.6" y="260.9" font-size="10" text-anchor="end" fill="#000" font-weight="bold" >150</text>
<line x1="255.59999999999997" y1="271.9" x2="259.4" y2="271.9" stroke="#000" stroke-width="1.6"/>
<text x="254.6" y="275.5" font-size="10" text-anchor="end" fill="#000" font-weight="bold" >125</text>
<line x1="255.59999999999997" y1="286.6" x2="259.4" y2="286.6" stroke="#000" stroke-width="1.6"/>
<text x="254.6" y="290.2" font-size="10" text-anchor="end" fill="#000" font-weight="bold" >100</text>
<line x1="255.59999999999997" y1="292" x2="259.4" y2="292" stroke="#000" stroke-width="1.6"/>
<line x1="255.59999999999997" y1="303.1" x2="259.4" y2="303.1" stroke="#000" stroke-width="1.6"/>
<text x="254.6" y="306.7" font-size="10" text-anchor="end" fill="#000" font-weight="bold" >0</text>
<line x1="258.59999999999997" y1="303.1" x2="436.6" y2="303.1" stroke="#000" stroke-width="1.6"/>
<line x1="271.3" y1="303.1" x2="271.3" y2="306.9" stroke="#000" stroke-width="1.6"/>
<text x="271.0" y="316.7" font-size="10" text-anchor="middle" fill="#000" font-weight="bold" >-3</text>
<line x1="285.3" y1="303.1" x2="285.3" y2="306.9" stroke="#000" stroke-width="1.6"/>
<text x="285.0" y="316.7" font-size="10" text-anchor="middle" fill="#000" font-weight="bold" >-2</text>
<line x1="299.3" y1="303.1" x2="299.3" y2="306.9" stroke="#000" stroke-width="1.6"/>
<text x="299.0" y="316.7" font-size="10" text-anchor="middle" fill="#000" font-weight="bold" >-1</text>
<line x1="313.3" y1="303.1" x2="313.3" y2="306.9" stroke="#000" stroke-width="1.6"/>
<text x="313.3" y="316.7" font-size="10" text-anchor="middle" fill="#000" font-weight="bold" >0</text>
<line x1="327.3" y1="303.1" x2="327.3" y2="306.9" stroke="#000" stroke-width="1.6"/>
<text x="327.3" y="316.7" font-size="10" text-anchor="middle" fill="#000" font-weight="bold" >1</text>
<line x1="341.3" y1="303.1" x2="341.3" y2="306.9" stroke="#000" stroke-width="1.6"/>
<text x="341.3" y="316.7" font-size="10" text-anchor="middle" fill="#000" font-weight="bold" >2</text>
<line x1="355.3" y1="303.1" x2="355.3" y2="306.9" stroke="#000" stroke-width="1.6"/>
<text x="355.3" y="316.7" font-size="10" text-anchor="middle" fill="#000" font-weight="bold" >3</text>
<line x1="369.3" y1="303.1" x2="369.3" y2="306.9" stroke="#000" stroke-width="1.6"/>
<text x="369.3" y="316.7" font-size="10" text-anchor="middle" fill="#000" font-weight="bold" >4</text>
<line x1="383.4" y1="303.1" x2="383.4" y2="306.9" stroke="#000" stroke-width="1.6"/>
<text x="383.4" y="316.7" font-size="10" text-anchor="middle" fill="#000" font-weight="bold" >5</text>
<line x1="397.4" y1="303.1" x2="397.4" y2="306.9" stroke="#000" stroke-width="1.6"/>
<text x="397.4" y="316.7" font-size="10" text-anchor="middle" fill="#000" font-weight="bold" >6</text>
<line x1="411.4" y1="303.1" x2="411.4" y2="306.9" stroke="#000" stroke-width="1.6"/>
<text x="411.4" y="316.7" font-size="10" text-anchor="middle" fill="#000" font-weight="bold" >7</text>
<line x1="425.4" y1="303.1" x2="425.4" y2="306.9" stroke="#000" stroke-width="1.6"/>
<text x="425.4" y="316.7" font-size="10" text-anchor="middle" fill="#000" font-weight="bold" >8</text>
<text x="348.0" y="332.0" font-size="10" text-anchor="middle" fill="#000" font-weight="bold" >Weeks</text>
<text x="232.6" y="242.0" font-size="10.4" text-anchor="middle" fill="#000" font-weight="bold" transform="rotate(-90 232.6 242)">Blood Glucose (mg/dL)</text>
<path d="M271.3 235.8 L285.3 235.5 L299.3 239.8 L313.3 239.0 L327.3 237.4 L341.3 238.0 L355.3 238.3 L369.3 238.7 L383.4 240.9 L397.4 243.6 L411.4 233.4 L425.4 230.4" fill="none" stroke="#0c0c0c" stroke-width="0.95"/><circle cx="271.3" cy="235.8" r="2.5" fill="#d8d8d8" stroke="#a4a4a4" stroke-width="0.8"/><path d="M271.3 234.3 V237.3 M268.9 234.3 H273.7 M268.9 237.3 H273.7" stroke="#a4a4a4" stroke-width="0.7000000000000001" fill="none"/><circle cx="285.3" cy="235.5" r="2.5" fill="#d8d8d8" stroke="#a4a4a4" stroke-width="0.8"/><path d="M285.3 234.0 V237.0 M282.9 234.0 H287.7 M282.9 237.0 H287.7" stroke="#a4a4a4" stroke-width="0.7000000000000001" fill="none"/><circle cx="299.3" cy="239.8" r="2.5" fill="#d8d8d8" stroke="#a4a4a4" stroke-width="0.8"/><path d="M299.3 238.8 V240.8 M296.9 238.8 H301.7 M296.9 240.8 H301.7" stroke="#a4a4a4" stroke-width="0.7000000000000001" fill="none"/><circle cx="313.3" cy="239.0" r="2.5" fill="#d8d8d8" stroke="#a4a4a4" stroke-width="0.8"/><path d="M313.3 238.0 V240.0 M310.9 238.0 H315.7 M310.9 240.0 H315.7" stroke="#a4a4a4" stroke-width="0.7000000000000001" fill="none"/><circle cx="327.3" cy="237.4" r="2.5" fill="#d8d8d8" stroke="#a4a4a4" stroke-width="0.8"/><path d="M327.3 236.2 V238.6 M324.9 236.2 H329.7 M324.9 238.6 H329.7" stroke="#a4a4a4" stroke-width="0.7000000000000001" fill="none"/><circle cx="341.3" cy="238.0" r="2.5" fill="#d8d8d8" stroke="#a4a4a4" stroke-width="0.8"/><path d="M341.3 236.8 V239.2 M338.9 236.8 H343.7 M338.9 239.2 H343.7" stroke="#a4a4a4" stroke-width="0.7000000000000001" fill="none"/><circle cx="355.3" cy="238.3" r="2.5" fill="#d8d8d8" stroke="#a4a4a4" stroke-width="0.8"/><path d="M355.3 237.1 V239.5 M352.9 237.1 H357.7 M352.9 239.5 H357.7" stroke="#a4a4a4" stroke-width="0.7000000000000001" fill="none"/><circle cx="369.3" cy="238.7" r="2.5" fill="#d8d8d8" stroke="#a4a4a4" stroke-width="0.8"/><path d="M369.3 237.5 V239.9 M366.9 237.5 H371.7 M366.9 239.9 H371.7" stroke="#a4a4a4" stroke-width="0.7000000000000001" fill="none"/><circle cx="383.4" cy="240.9" r="2.5" fill="#d8d8d8" stroke="#a4a4a4" stroke-width="0.8"/><path d="M383.4 239.7 V242.1 M381.0 239.7 H385.8 M381.0 242.1 H385.8" stroke="#a4a4a4" stroke-width="0.7000000000000001" fill="none"/><circle cx="397.4" cy="243.6" r="2.5" fill="#d8d8d8" stroke="#a4a4a4" stroke-width="0.8"/><path d="M397.4 242.3 V244.9 M395.0 242.3 H399.8 M395.0 244.9 H399.8" stroke="#a4a4a4" stroke-width="0.7000000000000001" fill="none"/><circle cx="411.4" cy="233.4" r="2.5" fill="#d8d8d8" stroke="#a4a4a4" stroke-width="0.8"/><path d="M411.4 231.9 V234.9 M409.0 231.9 H413.8 M409.0 234.9 H413.8" stroke="#a4a4a4" stroke-width="0.7000000000000001" fill="none"/><circle cx="425.4" cy="230.4" r="2.5" fill="#d8d8d8" stroke="#a4a4a4" stroke-width="0.8"/><path d="M425.4 228.6 V232.2 M423.0 228.6 H427.8 M423.0 232.2 H427.8" stroke="#a4a4a4" stroke-width="0.7000000000000001" fill="none"/>
<path d="M271.3 235.6 L285.3 233.7 L299.3 220.8 L313.3 213.4 L327.3 240.9 L341.3 235.7 L355.3 240.9 L369.3 230.4 L383.4 240.9 L397.4 240.0 L411.4 233.9 L425.4 235.7" fill="none" stroke="#0c0c0c" stroke-width="0.95"/><circle cx="271.3" cy="235.6" r="2.5" fill="#f7c396" stroke="#ee8530" stroke-width="1.0"/><path d="M268.8 235.6 H273.8" stroke="#ee8530" stroke-width="0.7" fill="none"/><path d="M271.3 233.8 V237.4 M268.9 233.8 H273.7 M268.9 237.4 H273.7" stroke="#ee8530" stroke-width="0.9" fill="none"/><circle cx="285.3" cy="233.7" r="2.5" fill="#f7c396" stroke="#ee8530" stroke-width="1.0"/><path d="M282.8 233.7 H287.8" stroke="#ee8530" stroke-width="0.7" fill="none"/><path d="M285.3 231.2 V236.2 M282.9 231.2 H287.7 M282.9 236.2 H287.7" stroke="#ee8530" stroke-width="0.9" fill="none"/><circle cx="299.3" cy="220.8" r="2.5" fill="#f7c396" stroke="#ee8530" stroke-width="1.0"/><path d="M296.8 220.8 H301.8" stroke="#ee8530" stroke-width="0.7" fill="none"/><path d="M299.3 218.5 V223.1 M296.9 218.5 H301.7 M296.9 223.1 H301.7" stroke="#ee8530" stroke-width="0.9" fill="none"/><circle cx="313.3" cy="213.4" r="2.5" fill="#f7c396" stroke="#ee8530" stroke-width="1.0"/><path d="M310.8 213.4 H315.8" stroke="#ee8530" stroke-width="0.7" fill="none"/><path d="M313.3 209.9 V216.9 M310.9 209.9 H315.7 M310.9 216.9 H315.7" stroke="#ee8530" stroke-width="0.9" fill="none"/><circle cx="327.3" cy="240.9" r="2.5" fill="#f7c396" stroke="#ee8530" stroke-width="1.0"/><path d="M324.8 240.9 H329.8" stroke="#ee8530" stroke-width="0.7" fill="none"/><path d="M327.3 237.7 V244.1 M324.9 237.7 H329.7 M324.9 244.1 H329.7" stroke="#ee8530" stroke-width="0.9" fill="none"/><circle cx="341.3" cy="235.7" r="2.5" fill="#f7c396" stroke="#ee8530" stroke-width="1.0"/><path d="M338.8 235.7 H343.8" stroke="#ee8530" stroke-width="0.7" fill="none"/><path d="M341.3 233.9 V237.5 M338.9 233.9 H343.7 M338.9 237.5 H343.7" stroke="#ee8530" stroke-width="0.9" fill="none"/><circle cx="355.3" cy="240.9" r="2.5" fill="#f7c396" stroke="#ee8530" stroke-width="1.0"/><path d="M352.8 240.9 H357.8" stroke="#ee8530" stroke-width="0.7" fill="none"/><path d="M355.3 238.9 V242.9 M352.9 238.9 H357.7 M352.9 242.9 H357.7" stroke="#ee8530" stroke-width="0.9" fill="none"/><circle cx="369.3" cy="230.4" r="2.5" fill="#f7c396" stroke="#ee8530" stroke-width="1.0"/><path d="M366.8 230.4 H371.8" stroke="#ee8530" stroke-width="0.7" fill="none"/><path d="M369.3 228.8 V232.0 M366.9 228.8 H371.7 M366.9 232.0 H371.7" stroke="#ee8530" stroke-width="0.9" fill="none"/><circle cx="383.4" cy="240.9" r="2.5" fill="#f7c396" stroke="#ee8530" stroke-width="1.0"/><path d="M380.9 240.9 H385.9" stroke="#ee8530" stroke-width="0.7" fill="none"/><path d="M383.4 239.3 V242.5 M381.0 239.3 H385.8 M381.0 242.5 H385.8" stroke="#ee8530" stroke-width="0.9" fill="none"/><circle cx="397.4" cy="240.0" r="2.5" fill="#f7c396" stroke="#ee8530" stroke-width="1.0"/><path d="M394.9 240.0 H399.9" stroke="#ee8530" stroke-width="0.7" fill="none"/><path d="M397.4 237.8 V242.2 M395.0 237.8 H399.8 M395.0 242.2 H399.8" stroke="#ee8530" stroke-width="0.9" fill="none"/><circle cx="411.4" cy="233.9" r="2.5" fill="#f7c396" stroke="#ee8530" stroke-width="1.0"/><path d="M408.9 233.9 H413.9" stroke="#ee8530" stroke-width="0.7" fill="none"/><path d="M411.4 231.5 V236.3 M409.0 231.5 H413.8 M409.0 236.3 H413.8" stroke="#ee8530" stroke-width="0.9" fill="none"/><circle cx="425.4" cy="235.7" r="2.5" fill="#f7c396" stroke="#ee8530" stroke-width="1.0"/><path d="M422.9 235.7 H427.9" stroke="#ee8530" stroke-width="0.7" fill="none"/><path d="M425.4 232.4 V239.0 M423.0 232.4 H427.8 M423.0 239.0 H427.8" stroke="#ee8530" stroke-width="0.9" fill="none"/>
<path d="M271.3 235.8 L285.3 227.9 L299.3 220.6 L313.3 221.5 L327.3 220.8 L341.3 218.2 L355.3 215.9 L369.3 208.5 L383.4 215.5 L397.4 213.4 L411.4 204.5 L425.4 203.8" fill="none" stroke="#0c0c0c" stroke-width="0.95"/><circle cx="271.3" cy="235.8" r="2.5" fill="#807cf7" stroke="#2016f2" stroke-width="1.0"/><path d="M268.8 235.8 H273.8" stroke="#2016f2" stroke-width="0.7" fill="none"/><path d="M271.3 234.3 V237.3 M268.9 234.3 H273.7 M268.9 237.3 H273.7" stroke="#2016f2" stroke-width="0.9" fill="none"/><circle cx="285.3" cy="227.9" r="2.5" fill="#807cf7" stroke="#2016f2" stroke-width="1.0"/><path d="M282.8 227.9 H287.8" stroke="#2016f2" stroke-width="0.7" fill="none"/><path d="M285.3 224.9 V230.9 M282.9 224.9 H287.7 M282.9 230.9 H287.7" stroke="#2016f2" stroke-width="0.9" fill="none"/><circle cx="299.3" cy="220.6" r="2.5" fill="#807cf7" stroke="#2016f2" stroke-width="1.0"/><path d="M296.8 220.6 H301.8" stroke="#2016f2" stroke-width="0.7" fill="none"/><path d="M299.3 218.1 V223.1 M296.9 218.1 H301.7 M296.9 223.1 H301.7" stroke="#2016f2" stroke-width="0.9" fill="none"/><circle cx="313.3" cy="221.5" r="2.5" fill="#807cf7" stroke="#2016f2" stroke-width="1.0"/><path d="M310.8 221.5 H315.8" stroke="#2016f2" stroke-width="0.7" fill="none"/><path d="M313.3 218.3 V224.7 M310.9 218.3 H315.7 M310.9 224.7 H315.7" stroke="#2016f2" stroke-width="0.9" fill="none"/><circle cx="327.3" cy="220.8" r="2.5" fill="#807cf7" stroke="#2016f2" stroke-width="1.0"/><path d="M324.8 220.8 H329.8" stroke="#2016f2" stroke-width="0.7" fill="none"/><path d="M327.3 216.6 V225.0 M324.9 216.6 H329.7 M324.9 225.0 H329.7" stroke="#2016f2" stroke-width="0.9" fill="none"/><circle cx="341.3" cy="218.2" r="2.5" fill="#807cf7" stroke="#2016f2" stroke-width="1.0"/><path d="M338.8 218.2 H343.8" stroke="#2016f2" stroke-width="0.7" fill="none"/><path d="M341.3 215.2 V221.2 M338.9 215.2 H343.7 M338.9 221.2 H343.7" stroke="#2016f2" stroke-width="0.9" fill="none"/><circle cx="355.3" cy="215.9" r="2.5" fill="#807cf7" stroke="#2016f2" stroke-width="1.0"/><path d="M352.8 215.9 H357.8" stroke="#2016f2" stroke-width="0.7" fill="none"/><path d="M355.3 212.1 V219.7 M352.9 212.1 H357.7 M352.9 219.7 H357.7" stroke="#2016f2" stroke-width="0.9" fill="none"/><circle cx="369.3" cy="208.5" r="2.5" fill="#807cf7" stroke="#2016f2" stroke-width="1.0"/><path d="M366.8 208.5 H371.8" stroke="#2016f2" stroke-width="0.7" fill="none"/><path d="M369.3 204.2 V212.8 M366.9 204.2 H371.7 M366.9 212.8 H371.7" stroke="#2016f2" stroke-width="0.9" fill="none"/><circle cx="383.4" cy="215.5" r="2.5" fill="#807cf7" stroke="#2016f2" stroke-width="1.0"/><path d="M380.9 215.5 H385.9" stroke="#2016f2" stroke-width="0.7" fill="none"/><path d="M383.4 210.2 V220.8 M381.0 210.2 H385.8 M381.0 220.8 H385.8" stroke="#2016f2" stroke-width="0.9" fill="none"/><circle cx="397.4" cy="213.4" r="2.5" fill="#807cf7" stroke="#2016f2" stroke-width="1.0"/><path d="M394.9 213.4 H399.9" stroke="#2016f2" stroke-width="0.7" fill="none"/><path d="M397.4 208.0 V218.8 M395.0 208.0 H399.8 M395.0 218.8 H399.8" stroke="#2016f2" stroke-width="0.9" fill="none"/><circle cx="411.4" cy="204.5" r="2.5" fill="#807cf7" stroke="#2016f2" stroke-width="1.0"/><path d="M408.9 204.5 H413.9" stroke="#2016f2" stroke-width="0.7" fill="none"/><path d="M411.4 197.3 V211.7 M409.0 197.3 H413.8 M409.0 211.7 H413.8" stroke="#2016f2" stroke-width="0.9" fill="none"/><circle cx="425.4" cy="203.8" r="2.5" fill="#807cf7" stroke="#2016f2" stroke-width="1.0"/><path d="M422.9 203.8 H427.9" stroke="#2016f2" stroke-width="0.7" fill="none"/><path d="M425.4 195.5 V212.1 M423.0 195.5 H427.8 M423.0 212.1 H427.8" stroke="#2016f2" stroke-width="0.9" fill="none"/>
<text x="313.3" y="189.9" font-size="8.1" text-anchor="middle" fill="#f0642a" font-weight="bold" stroke="#f0642a" stroke-width="0.2">KETO</text>
<line x1="313.2" y1="191.4" x2="313.2" y2="202.8" stroke="#111" stroke-width="1.0"/><path d="M313.2 207 L315.5 201.8 L310.9 201.8 Z" fill="#111"/>
<text x="285.1" y="263.8" font-size="8.1" text-anchor="middle" fill="#241cf0" font-weight="bold" stroke="#241cf0" stroke-width="0.2">STZ</text>
<line x1="285.1" y1="256.2" x2="285.1" y2="245.0" stroke="#111" stroke-width="1.0"/><path d="M285.1 240.8 L287.40000000000003 246.0 L282.8 246.0 Z" fill="#111"/>
<rect x="265.1" y="282.4" width="171.6" height="16.6" fill="#fff" stroke="#444" stroke-width="0.9"/><circle cx="272.1" cy="290.7" r="2.4" fill="#d4d4d4" stroke="#8c8c8c" stroke-width="0.9"/><line x1="267.9" y1="290.7" x2="276.3" y2="290.7" stroke="#8c8c8c" stroke-width="0.9"/><text x="280.7" y="293.5" font-size="7.3" font-weight="bold" fill="#111" stroke="#111" stroke-width="0.15" textLength="43.3" lengthAdjust="spacingAndGlyphs">CON- CHOW</text><circle cx="329.9" cy="290.7" r="2.4" fill="#807cf7" stroke="#2016f2" stroke-width="0.9"/><line x1="325.7" y1="290.7" x2="334.1" y2="290.7" stroke="#2016f2" stroke-width="0.9"/><text x="339.1" y="293.5" font-size="7.3" font-weight="bold" fill="#111" stroke="#111" stroke-width="0.15" textLength="40.3" lengthAdjust="spacingAndGlyphs">STZ- CHOW</text><circle cx="386.9" cy="290.7" r="2.4" fill="#f7c396" stroke="#ee8530" stroke-width="0.9"/><line x1="382.7" y1="290.7" x2="391.1" y2="290.7" stroke="#ee8530" stroke-width="0.9"/><text x="396.1" y="293.5" font-size="7.3" font-weight="bold" fill="#111" stroke="#111" stroke-width="0.15" textLength="37.5" lengthAdjust="spacingAndGlyphs">STZ- KETO</text>
</g>
<g id="panelD">
<text x="458.4" y="169.6" font-size="12.5" text-anchor="start" fill="#000" font-weight="bold" >D</text>
<path d="M497.8 184.5 V304.4" stroke="#000" stroke-width="1.45" fill="none"/>
<line x1="494.0" y1="304.4" x2="497.8" y2="304.4" stroke="#000" stroke-width="1.45"/>
<text x="493.0" y="308.0" font-size="10" text-anchor="end" fill="#000" font-weight="bold" >0</text>
<line x1="494.0" y1="284.5" x2="497.8" y2="284.5" stroke="#000" stroke-width="1.45"/>
<text x="493.0" y="288.1" font-size="10" text-anchor="end" fill="#000" font-weight="bold" >100</text>
<line x1="494.0" y1="264.7" x2="497.8" y2="264.7" stroke="#000" stroke-width="1.45"/>
<text x="493.0" y="268.3" font-size="10" text-anchor="end" fill="#000" font-weight="bold" >200</text>
<line x1="494.0" y1="244.8" x2="497.8" y2="244.8" stroke="#000" stroke-width="1.45"/>
<text x="493.0" y="248.4" font-size="10" text-anchor="end" fill="#000" font-weight="bold" >300</text>
<line x1="494.0" y1="224.9" x2="497.8" y2="224.9" stroke="#000" stroke-width="1.45"/>
<text x="493.0" y="228.5" font-size="10" text-anchor="end" fill="#000" font-weight="bold" >400</text>
<line x1="494.0" y1="205.0" x2="497.8" y2="205.0" stroke="#000" stroke-width="1.45"/>
<text x="493.0" y="208.6" font-size="10" text-anchor="end" fill="#000" font-weight="bold" >500</text>
<line x1="494.0" y1="185.2" x2="497.8" y2="185.2" stroke="#000" stroke-width="1.45"/>
<text x="493.0" y="188.8" font-size="10" text-anchor="end" fill="#000" font-weight="bold" >600</text>
<line x1="497.075" y1="304.4" x2="676.3" y2="304.4" stroke="#000" stroke-width="1.45"/>
<line x1="497.7" y1="304.4" x2="497.7" y2="308.2" stroke="#000" stroke-width="1.45"/>
<text x="497.7" y="318.1" font-size="10" text-anchor="middle" fill="#000" font-weight="bold" >0</text>
<line x1="519.9" y1="304.4" x2="519.9" y2="308.2" stroke="#000" stroke-width="1.45"/>
<text x="519.9" y="318.1" font-size="10" text-anchor="middle" fill="#000" font-weight="bold" >15</text>
<line x1="542.1" y1="304.4" x2="542.1" y2="308.2" stroke="#000" stroke-width="1.45"/>
<text x="542.1" y="318.1" font-size="10" text-anchor="middle" fill="#000" font-weight="bold" >30</text>
<line x1="564.3" y1="304.4" x2="564.3" y2="308.2" stroke="#000" stroke-width="1.45"/>
<text x="564.3" y="318.1" font-size="10" text-anchor="middle" fill="#000" font-weight="bold" >45</text>
<line x1="586.5" y1="304.4" x2="586.5" y2="308.2" stroke="#000" stroke-width="1.45"/>
<text x="586.5" y="318.1" font-size="10" text-anchor="middle" fill="#000" font-weight="bold" >60</text>
<line x1="675.4" y1="304.4" x2="675.4" y2="308.2" stroke="#000" stroke-width="1.45"/>
<text x="684.2" y="318.1" font-size="10" text-anchor="end" fill="#000" font-weight="bold" >120</text>
<text x="586.7" y="332.0" font-size="10.5" text-anchor="middle" fill="#000" font-weight="bold" >Time (min)</text>
<text x="471.5" y="242.0" font-size="10.4" text-anchor="middle" fill="#000" font-weight="bold" transform="rotate(-90 471.5 242)">Blood Glucose (mg/dL)</text>
<path d="M497.7 264.9 L519.9 226.7 L542.1 231.8 L564.3 239.7 L586.5 244.4 L675.4 263.7" fill="none" stroke="#0c0c0c" stroke-width="0.85"/><circle cx="497.7" cy="264.9" r="2.1" fill="#f4f4f4" stroke="#8c8c8c" stroke-width="0.8"/><path d="M495.6 264.9 H499.8" stroke="#8c8c8c" stroke-width="0.7" fill="none"/><path d="M497.7 263.7 V266.1 M495.5 263.7 H499.9 M495.5 266.1 H499.9" stroke="#8c8c8c" stroke-width="0.7000000000000001" fill="none"/><circle cx="519.9" cy="226.7" r="2.1" fill="#f4f4f4" stroke="#8c8c8c" stroke-width="0.8"/><path d="M517.8 226.7 H522.0" stroke="#8c8c8c" stroke-width="0.7" fill="none"/><path d="M519.9 223.0 V230.4 M517.7 223.0 H522.1 M517.7 230.4 H522.1" stroke="#8c8c8c" stroke-width="0.7000000000000001" fill="none"/><circle cx="542.1" cy="231.8" r="2.1" fill="#f4f4f4" stroke="#8c8c8c" stroke-width="0.8"/><path d="M540.0 231.8 H544.2" stroke="#8c8c8c" stroke-width="0.7" fill="none"/><path d="M542.1 228.0 V235.6 M539.9 228.0 H544.3 M539.9 235.6 H544.3" stroke="#8c8c8c" stroke-width="0.7000000000000001" fill="none"/><circle cx="564.3" cy="239.7" r="2.1" fill="#f4f4f4" stroke="#8c8c8c" stroke-width="0.8"/><path d="M562.2 239.7 H566.4" stroke="#8c8c8c" stroke-width="0.7" fill="none"/><path d="M564.3 235.7 V243.7 M562.1 235.7 H566.5 M562.1 243.7 H566.5" stroke="#8c8c8c" stroke-width="0.7000000000000001" fill="none"/><circle cx="586.5" cy="244.4" r="2.1" fill="#f4f4f4" stroke="#8c8c8c" stroke-width="0.8"/><path d="M584.4 244.4 H588.6" stroke="#8c8c8c" stroke-width="0.7" fill="none"/><path d="M586.5 241.0 V247.8 M584.3 241.0 H588.7 M584.3 247.8 H588.7" stroke="#8c8c8c" stroke-width="0.7000000000000001" fill="none"/><circle cx="675.4" cy="263.7" r="2.1" fill="#f4f4f4" stroke="#8c8c8c" stroke-width="0.8"/><path d="M673.3 263.7 H677.5" stroke="#8c8c8c" stroke-width="0.7" fill="none"/><path d="M675.4 262.2 V265.2 M673.2 262.2 H677.6 M673.2 265.2 H677.6" stroke="#8c8c8c" stroke-width="0.7000000000000001" fill="none"/>
<path d="M497.7 263.7 L519.9 215.0 L542.1 206.4 L564.3 212.0 L586.5 214.7 L675.4 240.9" fill="none" stroke="#0c0c0c" stroke-width="0.85"/><circle cx="497.7" cy="263.7" r="2.1" fill="#f7c396" stroke="#ee8530" stroke-width="0.8"/><path d="M495.6 263.7 H499.8" stroke="#ee8530" stroke-width="0.7" fill="none"/><path d="M497.7 262.2 V265.2 M495.5 262.2 H499.9 M495.5 265.2 H499.9" stroke="#ee8530" stroke-width="0.7000000000000001" fill="none"/><circle cx="519.9" cy="215.0" r="2.1" fill="#f7c396" stroke="#ee8530" stroke-width="0.8"/><path d="M517.8 215.0 H522.0" stroke="#ee8530" stroke-width="0.7" fill="none"/><path d="M519.9 212.4 V217.6 M517.7 212.4 H522.1 M517.7 217.6 H522.1" stroke="#ee8530" stroke-width="0.7000000000000001" fill="none"/><circle cx="542.1" cy="206.4" r="2.1" fill="#f7c396" stroke="#ee8530" stroke-width="0.8"/><path d="M540.0 206.4 H544.2" stroke="#ee8530" stroke-width="0.7" fill="none"/><path d="M542.1 203.4 V209.4 M539.9 203.4 H544.3 M539.9 209.4 H544.3" stroke="#ee8530" stroke-width="0.7000000000000001" fill="none"/><circle cx="564.3" cy="212.0" r="2.1" fill="#f7c396" stroke="#ee8530" stroke-width="0.8"/><path d="M562.2 212.0 H566.4" stroke="#ee8530" stroke-width="0.7" fill="none"/><path d="M564.3 208.2 V215.8 M562.1 208.2 H566.5 M562.1 215.8 H566.5" stroke="#ee8530" stroke-width="0.7000000000000001" fill="none"/><circle cx="586.5" cy="214.7" r="2.1" fill="#f7c396" stroke="#ee8530" stroke-width="0.8"/><path d="M584.4 214.7 H588.6" stroke="#ee8530" stroke-width="0.7" fill="none"/><path d="M586.5 210.9 V218.5 M584.3 210.9 H588.7 M584.3 218.5 H588.7" stroke="#ee8530" stroke-width="0.7000000000000001" fill="none"/><circle cx="675.4" cy="240.9" r="2.1" fill="#f7c396" stroke="#ee8530" stroke-width="0.8"/><path d="M673.3 240.9 H677.5" stroke="#ee8530" stroke-width="0.7" fill="none"/><path d="M675.4 237.7 V244.1 M673.2 237.7 H677.6 M673.2 244.1 H677.6" stroke="#ee8530" stroke-width="0.7000000000000001" fill="none"/>
<path d="M497.7 259.1 L519.9 216.0 L542.1 211.8 L564.3 215.5 L586.5 220.4 L675.4 243.9" fill="none" stroke="#0c0c0c" stroke-width="0.85"/><circle cx="497.7" cy="259.1" r="2.1" fill="#807cf7" stroke="#2016f2" stroke-width="0.8"/><path d="M495.6 259.1 H499.8" stroke="#2016f2" stroke-width="0.7" fill="none"/><path d="M497.7 257.6 V260.6 M495.5 257.6 H499.9 M495.5 260.6 H499.9" stroke="#2016f2" stroke-width="0.7000000000000001" fill="none"/><circle cx="519.9" cy="216.0" r="2.1" fill="#807cf7" stroke="#2016f2" stroke-width="0.8"/><path d="M517.8 216.0 H522.0" stroke="#2016f2" stroke-width="0.7" fill="none"/><path d="M519.9 213.0 V219.0 M517.7 213.0 H522.1 M517.7 219.0 H522.1" stroke="#2016f2" stroke-width="0.7000000000000001" fill="none"/><circle cx="542.1" cy="211.8" r="2.1" fill="#807cf7" stroke="#2016f2" stroke-width="0.8"/><path d="M540.0 211.8 H544.2" stroke="#2016f2" stroke-width="0.7" fill="none"/><path d="M542.1 208.2 V215.4 M539.9 208.2 H544.3 M539.9 215.4 H544.3" stroke="#2016f2" stroke-width="0.7000000000000001" fill="none"/><circle cx="564.3" cy="215.5" r="2.1" fill="#807cf7" stroke="#2016f2" stroke-width="0.8"/><path d="M562.2 215.5 H566.4" stroke="#2016f2" stroke-width="0.7" fill="none"/><path d="M564.3 211.3 V219.7 M562.1 211.3 H566.5 M562.1 219.7 H566.5" stroke="#2016f2" stroke-width="0.7000000000000001" fill="none"/><circle cx="586.5" cy="220.4" r="2.1" fill="#807cf7" stroke="#2016f2" stroke-width="0.8"/><path d="M584.4 220.4 H588.6" stroke="#2016f2" stroke-width="0.7" fill="none"/><path d="M586.5 215.4 V225.4 M584.3 215.4 H588.7 M584.3 225.4 H588.7" stroke="#2016f2" stroke-width="0.7000000000000001" fill="none"/><circle cx="675.4" cy="243.9" r="2.1" fill="#807cf7" stroke="#2016f2" stroke-width="0.8"/><path d="M673.3 243.9 H677.5" stroke="#2016f2" stroke-width="0.7" fill="none"/><path d="M675.4 240.3 V247.5 M673.2 240.3 H677.6 M673.2 247.5 H677.6" stroke="#2016f2" stroke-width="0.7000000000000001" fill="none"/>
<rect x="500.7" y="283.4" width="175.6" height="16.5" fill="#fff" stroke="#444" stroke-width="0.9"/><circle cx="507.9" cy="291.6" r="2.4" fill="#f4f4f4" stroke="#707070" stroke-width="0.9"/><line x1="503.7" y1="291.6" x2="512.1" y2="291.6" stroke="#707070" stroke-width="0.9"/><text x="516.9" y="294.6" font-size="7.3" font-weight="bold" fill="#111" stroke="#111" stroke-width="0.15" textLength="43.1" lengthAdjust="spacingAndGlyphs">CON- CHOW</text><circle cx="567.5" cy="291.6" r="2.4" fill="#807cf7" stroke="#2016f2" stroke-width="0.9"/><line x1="563.3" y1="291.6" x2="571.7" y2="291.6" stroke="#2016f2" stroke-width="0.9"/><text x="577.3" y="294.6" font-size="7.3" font-weight="bold" fill="#111" stroke="#111" stroke-width="0.15" textLength="40.7" lengthAdjust="spacingAndGlyphs">STZ- CHOW</text><circle cx="625.3" cy="291.6" r="2.4" fill="#f7c396" stroke="#ee8530" stroke-width="0.9"/><line x1="621.1" y1="291.6" x2="629.5" y2="291.6" stroke="#ee8530" stroke-width="0.9"/><text x="634.3" y="294.6" font-size="7.3" font-weight="bold" fill="#111" stroke="#111" stroke-width="0.15" textLength="37.5" lengthAdjust="spacingAndGlyphs">STZ- KETO</text>
</g>
<g id="panelE">
<text x="3.0" y="357.8" font-size="12.5" text-anchor="start" fill="#000" font-weight="bold" >E</text>
<path d="M57.8 404.3 V522.3 " stroke="#000" stroke-width="1.0" fill="none"/><line x1="57.3" y1="522.3" x2="176.6" y2="522.3" stroke="#000" stroke-width="1.0"/><line x1="54.199999999999996" y1="522.3" x2="57.8" y2="522.3" stroke="#000" stroke-width="1.0"/><text x="53.0" y="525.6" font-size="9.2" text-anchor="end" fill="#000" font-weight="bold" >0</text><line x1="54.199999999999996" y1="498.8" x2="57.8" y2="498.8" stroke="#000" stroke-width="1.0"/><text x="53.0" y="502.1" font-size="9.2" text-anchor="end" fill="#000" font-weight="bold" >10000</text><line x1="54.199999999999996" y1="475.3" x2="57.8" y2="475.3" stroke="#000" stroke-width="1.0"/><text x="53.0" y="478.6" font-size="9.2" text-anchor="end" fill="#000" font-weight="bold" >20000</text><line x1="54.199999999999996" y1="451.8" x2="57.8" y2="451.8" stroke="#000" stroke-width="1.0"/><text x="53.0" y="455.1" font-size="9.2" text-anchor="end" fill="#000" font-weight="bold" >30000</text><line x1="54.199999999999996" y1="428.3" x2="57.8" y2="428.3" stroke="#000" stroke-width="1.0"/><text x="53.0" y="431.6" font-size="9.2" text-anchor="end" fill="#000" font-weight="bold" >40000</text><line x1="54.199999999999996" y1="404.8" x2="57.8" y2="404.8" stroke="#000" stroke-width="1.0"/><text x="53.0" y="408.1" font-size="9.2" text-anchor="end" fill="#000" font-weight="bold" >50000</text><line x1="81.7" y1="522.3" x2="81.7" y2="526.0999999999999" stroke="#000" stroke-width="1.0"/><text x="81.7" y="535.7" font-size="9.3" text-anchor="middle" fill="#000" font-weight="bold" >CON-</text><text x="81.7" y="546.9" font-size="9.3" text-anchor="middle" fill="#000" font-weight="bold" >CHOW</text><line x1="117.2" y1="522.3" x2="117.2" y2="526.0999999999999" stroke="#000" stroke-width="1.0"/><text x="117.2" y="535.7" font-size="9.3" text-anchor="middle" fill="#000" font-weight="bold" >STZ-</text><text x="117.2" y="546.9" font-size="9.3" text-anchor="middle" fill="#000" font-weight="bold" >CHOW</text><line x1="152.6" y1="522.3" x2="152.6" y2="526.0999999999999" stroke="#000" stroke-width="1.0"/><text x="152.6" y="535.7" font-size="9.3" text-anchor="middle" fill="#000" font-weight="bold" >STZ-</text><text x="152.6" y="546.9" font-size="9.3" text-anchor="middle" fill="#000" font-weight="bold" >KETO</text><text x="22.2" y="461.5" font-size="9.35" text-anchor="middle" fill="#000" font-weight="bold" transform="rotate(-90 22.2 461.5)">AUC (mg/dL x min)</text>
<path d="M67.1 522.3 V494.3 H95.9 V522.3" fill="none" stroke="#808080" stroke-width="1.1"/>
<path d="M81.6 490.7 V497.90000000000003 M75.6 490.7 H87.6 M75.6 497.90000000000003 H87.6" stroke="#808080" stroke-width="1" fill="none"/>
<circle cx="81.7" cy="442.9" r="2.6" fill="#e1e1e1" stroke="#828282" stroke-width="0.9"/><circle cx="81.7" cy="455.2" r="2.6" fill="#e1e1e1" stroke="#828282" stroke-width="0.9"/><circle cx="78.6" cy="466.1" r="2.6" fill="#e1e1e1" stroke="#828282" stroke-width="0.9"/><circle cx="84.6" cy="468.4" r="2.6" fill="#e1e1e1" stroke="#828282" stroke-width="0.9"/><circle cx="81.3" cy="470.8" r="2.6" fill="#e1e1e1" stroke="#828282" stroke-width="0.9"/><circle cx="78.6" cy="484.0" r="2.6" fill="#e1e1e1" stroke="#828282" stroke-width="0.9"/><circle cx="75.3" cy="487.2" r="2.6" fill="#e1e1e1" stroke="#828282" stroke-width="0.9"/><circle cx="87.9" cy="487.2" r="2.6" fill="#e1e1e1" stroke="#828282" stroke-width="0.9"/><circle cx="84.6" cy="489.9" r="2.6" fill="#e1e1e1" stroke="#828282" stroke-width="0.9"/><circle cx="78.6" cy="491.8" r="2.6" fill="#e1e1e1" stroke="#828282" stroke-width="0.9"/><circle cx="81.7" cy="492.9" r="2.6" fill="#e1e1e1" stroke="#828282" stroke-width="0.9"/><circle cx="69.4" cy="498.4" r="2.6" fill="#e1e1e1" stroke="#828282" stroke-width="0.9"/><circle cx="75.6" cy="499.2" r="2.6" fill="#e1e1e1" stroke="#828282" stroke-width="0.9"/><circle cx="93.7" cy="498.7" r="2.6" fill="#e1e1e1" stroke="#828282" stroke-width="0.9"/><circle cx="84.6" cy="501.7" r="2.6" fill="#e1e1e1" stroke="#828282" stroke-width="0.9"/><circle cx="72.3" cy="503.0" r="2.6" fill="#e1e1e1" stroke="#828282" stroke-width="0.9"/><circle cx="78.6" cy="503.3" r="2.6" fill="#e1e1e1" stroke="#828282" stroke-width="0.9"/><circle cx="89.6" cy="502.5" r="2.6" fill="#e1e1e1" stroke="#828282" stroke-width="0.9"/><circle cx="94.0" cy="504.2" r="2.6" fill="#e1e1e1" stroke="#828282" stroke-width="0.9"/><circle cx="69.4" cy="503.9" r="2.6" fill="#e1e1e1" stroke="#828282" stroke-width="0.9"/><circle cx="75.6" cy="506.3" r="2.6" fill="#e1e1e1" stroke="#828282" stroke-width="0.9"/><circle cx="81.7" cy="505.8" r="2.6" fill="#e1e1e1" stroke="#828282" stroke-width="0.9"/><circle cx="84.6" cy="507.6" r="2.6" fill="#e1e1e1" stroke="#828282" stroke-width="0.9"/><circle cx="88.2" cy="508.2" r="2.6" fill="#e1e1e1" stroke="#828282" stroke-width="0.9"/><circle cx="78.6" cy="509.3" r="2.6" fill="#e1e1e1" stroke="#828282" stroke-width="0.9"/><circle cx="84.6" cy="512.4" r="2.6" fill="#e1e1e1" stroke="#828282" stroke-width="0.9"/><circle cx="78.6" cy="516.1" r="2.6" fill="#e1e1e1" stroke="#828282" stroke-width="0.9"/><circle cx="81.7" cy="499.5" r="2.6" fill="#e1e1e1" stroke="#828282" stroke-width="0.9"/><circle cx="91.0" cy="507.0" r="2.6" fill="#e1e1e1" stroke="#828282" stroke-width="0.9"/>
<path d="M102.9 522.3 V474.6 H130.9 V522.3" fill="none" stroke="#2a22f0" stroke-width="1.6"/>
<path d="M117 472.0 V477.20000000000005 M111 472.0 H123 M111 477.20000000000005 H123" stroke="#2a22f0" stroke-width="1" fill="none"/>
<circle cx="124.5" cy="443.2" r="2.6" fill="#8280f7" stroke="#241cf0" stroke-width="0.9"/><circle cx="119.5" cy="445.5" r="2.6" fill="#8280f7" stroke="#241cf0" stroke-width="0.9"/><circle cx="114.7" cy="447.6" r="2.6" fill="#8280f7" stroke="#241cf0" stroke-width="0.9"/><circle cx="117.0" cy="454.8" r="2.6" fill="#8280f7" stroke="#241cf0" stroke-width="0.9"/><circle cx="114.7" cy="460.6" r="2.6" fill="#8280f7" stroke="#241cf0" stroke-width="0.9"/><circle cx="119.5" cy="461.5" r="2.6" fill="#8280f7" stroke="#241cf0" stroke-width="0.9"/><circle cx="124.5" cy="462.5" r="2.6" fill="#8280f7" stroke="#241cf0" stroke-width="0.9"/><circle cx="129.4" cy="466.0" r="2.6" fill="#8280f7" stroke="#241cf0" stroke-width="0.9"/><circle cx="110.0" cy="471.2" r="2.6" fill="#8280f7" stroke="#241cf0" stroke-width="0.9"/><circle cx="114.7" cy="471.2" r="2.6" fill="#8280f7" stroke="#241cf0" stroke-width="0.9"/><circle cx="119.5" cy="471.2" r="2.6" fill="#8280f7" stroke="#241cf0" stroke-width="0.9"/><circle cx="124.5" cy="469.9" r="2.6" fill="#8280f7" stroke="#241cf0" stroke-width="0.9"/><circle cx="105.2" cy="472.8" r="2.6" fill="#8280f7" stroke="#241cf0" stroke-width="0.9"/><circle cx="129.4" cy="472.2" r="2.6" fill="#8280f7" stroke="#241cf0" stroke-width="0.9"/><circle cx="119.5" cy="476.0" r="2.6" fill="#8280f7" stroke="#241cf0" stroke-width="0.9"/><circle cx="124.5" cy="476.6" r="2.6" fill="#8280f7" stroke="#241cf0" stroke-width="0.9"/><circle cx="110.0" cy="479.9" r="2.6" fill="#8280f7" stroke="#241cf0" stroke-width="0.9"/><circle cx="114.7" cy="480.9" r="2.6" fill="#8280f7" stroke="#241cf0" stroke-width="0.9"/><circle cx="124.5" cy="481.8" r="2.6" fill="#8280f7" stroke="#241cf0" stroke-width="0.9"/><circle cx="110.0" cy="484.7" r="2.6" fill="#8280f7" stroke="#241cf0" stroke-width="0.9"/><circle cx="119.5" cy="487.6" r="2.6" fill="#8280f7" stroke="#241cf0" stroke-width="0.9"/><circle cx="124.5" cy="487.6" r="2.6" fill="#8280f7" stroke="#241cf0" stroke-width="0.9"/><circle cx="110.0" cy="489.6" r="2.6" fill="#8280f7" stroke="#241cf0" stroke-width="0.9"/><circle cx="114.7" cy="494.8" r="2.6" fill="#8280f7" stroke="#241cf0" stroke-width="0.9"/><circle cx="119.5" cy="503.1" r="2.6" fill="#8280f7" stroke="#241cf0" stroke-width="0.9"/><circle cx="114.7" cy="506.0" r="2.6" fill="#8280f7" stroke="#241cf0" stroke-width="0.9"/>
<path d="M138.4 522.3 V464.8 H167 V522.3" fill="none" stroke="#f0742c" stroke-width="1.5"/>
<path d="M152.7 461.5 V468.1 M146.7 461.5 H158.7 M146.7 468.1 H158.7" stroke="#f0742c" stroke-width="1" fill="none"/>
<circle cx="145.4" cy="431.6" r="2.6" fill="#f7c696" stroke="#ee873a" stroke-width="0.9"/><circle cx="150.2" cy="434.1" r="2.6" fill="#f7c696" stroke="#ee873a" stroke-width="0.9"/><circle cx="159.9" cy="431.6" r="2.6" fill="#f7c696" stroke="#ee873a" stroke-width="0.9"/><circle cx="155.1" cy="441.3" r="2.6" fill="#f7c696" stroke="#ee873a" stroke-width="0.9"/><circle cx="145.4" cy="444.7" r="2.6" fill="#f7c696" stroke="#ee873a" stroke-width="0.9"/><circle cx="150.2" cy="445.1" r="2.6" fill="#f7c696" stroke="#ee873a" stroke-width="0.9"/><circle cx="159.9" cy="447.1" r="2.6" fill="#f7c696" stroke="#ee873a" stroke-width="0.9"/><circle cx="155.1" cy="448.0" r="2.6" fill="#f7c696" stroke="#ee873a" stroke-width="0.9"/><circle cx="150.2" cy="450.3" r="2.6" fill="#f7c696" stroke="#ee873a" stroke-width="0.9"/><circle cx="155.1" cy="455.7" r="2.6" fill="#f7c696" stroke="#ee873a" stroke-width="0.9"/><circle cx="159.9" cy="458.6" r="2.6" fill="#f7c696" stroke="#ee873a" stroke-width="0.9"/><circle cx="145.4" cy="461.5" r="2.6" fill="#f7c696" stroke="#ee873a" stroke-width="0.9"/><circle cx="150.2" cy="463.5" r="2.6" fill="#f7c696" stroke="#ee873a" stroke-width="0.9"/><circle cx="164.7" cy="465.4" r="2.6" fill="#f7c696" stroke="#ee873a" stroke-width="0.9"/><circle cx="155.1" cy="466.0" r="2.6" fill="#f7c696" stroke="#ee873a" stroke-width="0.9"/><circle cx="140.6" cy="469.9" r="2.6" fill="#f7c696" stroke="#ee873a" stroke-width="0.9"/><circle cx="150.2" cy="469.3" r="2.6" fill="#f7c696" stroke="#ee873a" stroke-width="0.9"/><circle cx="159.9" cy="470.2" r="2.6" fill="#f7c696" stroke="#ee873a" stroke-width="0.9"/><circle cx="155.1" cy="474.1" r="2.6" fill="#f7c696" stroke="#ee873a" stroke-width="0.9"/><circle cx="140.6" cy="477.6" r="2.6" fill="#f7c696" stroke="#ee873a" stroke-width="0.9"/><circle cx="145.4" cy="478.6" r="2.6" fill="#f7c696" stroke="#ee873a" stroke-width="0.9"/><circle cx="150.2" cy="477.0" r="2.6" fill="#f7c696" stroke="#ee873a" stroke-width="0.9"/><circle cx="159.9" cy="478.6" r="2.6" fill="#f7c696" stroke="#ee873a" stroke-width="0.9"/><circle cx="164.7" cy="478.6" r="2.6" fill="#f7c696" stroke="#ee873a" stroke-width="0.9"/><circle cx="155.1" cy="481.8" r="2.6" fill="#f7c696" stroke="#ee873a" stroke-width="0.9"/><circle cx="150.2" cy="484.3" r="2.6" fill="#f7c696" stroke="#ee873a" stroke-width="0.9"/><circle cx="159.9" cy="483.8" r="2.6" fill="#f7c696" stroke="#ee873a" stroke-width="0.9"/><circle cx="155.1" cy="487.6" r="2.6" fill="#f7c696" stroke="#ee873a" stroke-width="0.9"/><circle cx="152.6" cy="510.4" r="2.6" fill="#f7c696" stroke="#ee873a" stroke-width="0.9"/>
<path d="M81.4 406.6 V401.6 H152.6 V425.4" fill="none" stroke="#151515" stroke-width="1.0"/>
<path d="M81.4 437.5 V421.4 H117.4 V437.4" fill="none" stroke="#151515" stroke-width="1.0"/>
<text x="117.5" y="397.4" font-size="8.5" text-anchor="middle" fill="#000" font-weight="bold" >&lt;0.0001</text>
<text x="99.5" y="417.0" font-size="8.5" text-anchor="middle" fill="#000" font-weight="bold" >0.0002</text>
</g>
<g id="panelF">
<text x="216.0" y="357.3" font-size="12.5" text-anchor="start" fill="#000" font-weight="bold" >F</text>
<path d="M240.5 403.7 V522.2 " stroke="#000" stroke-width="1.4" fill="none"/><line x1="239.8" y1="522.2" x2="358.7" y2="522.2" stroke="#000" stroke-width="1.4"/><line x1="236.9" y1="522.2" x2="240.5" y2="522.2" stroke="#000" stroke-width="1.4"/><text x="235.7" y="525.5" font-size="9.2" text-anchor="end" fill="#000" font-weight="bold" >0</text><line x1="236.9" y1="492.8" x2="240.5" y2="492.8" stroke="#000" stroke-width="1.4"/><text x="235.7" y="496.1" font-size="9.2" text-anchor="end" fill="#000" font-weight="bold" >1</text><line x1="236.9" y1="463.3" x2="240.5" y2="463.3" stroke="#000" stroke-width="1.4"/><text x="235.7" y="466.6" font-size="9.2" text-anchor="end" fill="#000" font-weight="bold" >2</text><line x1="236.9" y1="433.9" x2="240.5" y2="433.9" stroke="#000" stroke-width="1.4"/><text x="235.7" y="437.2" font-size="9.2" text-anchor="end" fill="#000" font-weight="bold" >3</text><line x1="236.9" y1="404.4" x2="240.5" y2="404.4" stroke="#000" stroke-width="1.4"/><text x="235.7" y="407.7" font-size="9.2" text-anchor="end" fill="#000" font-weight="bold" >4</text><line x1="261.7" y1="522.2" x2="261.7" y2="526.0" stroke="#000" stroke-width="1.4"/><text x="261.7" y="535.7" font-size="9.3" text-anchor="middle" fill="#000" font-weight="bold" >CON-</text><text x="261.7" y="546.9" font-size="9.3" text-anchor="middle" fill="#000" font-weight="bold" >CHOW</text><line x1="298.9" y1="522.2" x2="298.9" y2="526.0" stroke="#000" stroke-width="1.4"/><text x="298.9" y="535.7" font-size="9.3" text-anchor="middle" fill="#000" font-weight="bold" >STZ-</text><text x="298.9" y="546.9" font-size="9.3" text-anchor="middle" fill="#000" font-weight="bold" >CHOW</text><line x1="336.4" y1="522.2" x2="336.4" y2="526.0" stroke="#000" stroke-width="1.4"/><text x="336.4" y="535.7" font-size="9.3" text-anchor="middle" fill="#000" font-weight="bold" >STZ-</text><text x="336.4" y="546.9" font-size="9.3" text-anchor="middle" fill="#000" font-weight="bold" >KETO</text><text x="226.0" y="461.4" font-size="9.35" text-anchor="middle" fill="#000" font-weight="bold" transform="rotate(-90 226 461.4)">Fasting Insulin (ng/mL)</text>
<path d="M246.8 522.2 V464.5 H277 V522.2" fill="none" stroke="#808080" stroke-width="1.1"/>
<path d="M261.8 459.9 V469.1 M255.8 459.9 H267.8 M255.8 469.1 H267.8" stroke="#808080" stroke-width="1" fill="none"/>
<circle cx="261.4" cy="406.9" r="2.6" fill="#e1e1e1" stroke="#828282" stroke-width="0.9"/><circle cx="258.4" cy="417.1" r="2.6" fill="#e1e1e1" stroke="#828282" stroke-width="0.9"/><circle cx="264.9" cy="419.2" r="2.6" fill="#e1e1e1" stroke="#828282" stroke-width="0.9"/><circle cx="258.4" cy="426.7" r="2.6" fill="#e1e1e1" stroke="#828282" stroke-width="0.9"/><circle cx="264.9" cy="428.5" r="2.6" fill="#e1e1e1" stroke="#828282" stroke-width="0.9"/><circle cx="261.7" cy="441.8" r="2.6" fill="#e1e1e1" stroke="#828282" stroke-width="0.9"/><circle cx="255.3" cy="438.6" r="2.6" fill="#e1e1e1" stroke="#828282" stroke-width="0.9"/><circle cx="261.7" cy="452.2" r="2.6" fill="#e1e1e1" stroke="#828282" stroke-width="0.9"/><circle cx="248.8" cy="460.8" r="2.6" fill="#e1e1e1" stroke="#828282" stroke-width="0.9"/><circle cx="255.3" cy="459.1" r="2.6" fill="#e1e1e1" stroke="#828282" stroke-width="0.9"/><circle cx="268.2" cy="458.0" r="2.6" fill="#e1e1e1" stroke="#828282" stroke-width="0.9"/><circle cx="274.6" cy="458.0" r="2.6" fill="#e1e1e1" stroke="#828282" stroke-width="0.9"/><circle cx="261.7" cy="462.9" r="2.6" fill="#e1e1e1" stroke="#828282" stroke-width="0.9"/><circle cx="248.8" cy="466.6" r="2.6" fill="#e1e1e1" stroke="#828282" stroke-width="0.9"/><circle cx="255.3" cy="466.6" r="2.6" fill="#e1e1e1" stroke="#828282" stroke-width="0.9"/><circle cx="268.2" cy="466.6" r="2.6" fill="#e1e1e1" stroke="#828282" stroke-width="0.9"/><circle cx="261.7" cy="469.8" r="2.6" fill="#e1e1e1" stroke="#828282" stroke-width="0.9"/><circle cx="268.2" cy="477.8" r="2.6" fill="#e1e1e1" stroke="#828282" stroke-width="0.9"/><circle cx="248.8" cy="481.0" r="2.6" fill="#e1e1e1" stroke="#828282" stroke-width="0.9"/><circle cx="255.3" cy="482.3" r="2.6" fill="#e1e1e1" stroke="#828282" stroke-width="0.9"/><circle cx="268.2" cy="483.4" r="2.6" fill="#e1e1e1" stroke="#828282" stroke-width="0.9"/><circle cx="274.6" cy="482.3" r="2.6" fill="#e1e1e1" stroke="#828282" stroke-width="0.9"/><circle cx="261.7" cy="487.1" r="2.6" fill="#e1e1e1" stroke="#828282" stroke-width="0.9"/><circle cx="255.3" cy="492.4" r="2.6" fill="#e1e1e1" stroke="#828282" stroke-width="0.9"/><circle cx="268.2" cy="493.5" r="2.6" fill="#e1e1e1" stroke="#828282" stroke-width="0.9"/><circle cx="274.6" cy="492.0" r="2.6" fill="#e1e1e1" stroke="#828282" stroke-width="0.9"/><circle cx="261.7" cy="495.7" r="2.6" fill="#e1e1e1" stroke="#828282" stroke-width="0.9"/><circle cx="248.8" cy="496.8" r="2.6" fill="#e1e1e1" stroke="#828282" stroke-width="0.9"/><circle cx="274.6" cy="497.8" r="2.6" fill="#e1e1e1" stroke="#828282" stroke-width="0.9"/>
<path d="M283.6 522.2 V486.4 H314.4 V522.2" fill="none" stroke="#2a22f0" stroke-width="1.6"/>
<path d="M299 484.59999999999997 V488.2 M293 484.59999999999997 H305 M293 488.2 H305" stroke="#2a22f0" stroke-width="1" fill="none"/>
<circle cx="292.2" cy="464.4" r="2.6" fill="#8280f7" stroke="#241cf0" stroke-width="0.9"/><circle cx="305.6" cy="464.4" r="2.6" fill="#8280f7" stroke="#241cf0" stroke-width="0.9"/><circle cx="302.0" cy="466.0" r="2.6" fill="#8280f7" stroke="#241cf0" stroke-width="0.9"/><circle cx="295.8" cy="468.0" r="2.6" fill="#8280f7" stroke="#241cf0" stroke-width="0.9"/><circle cx="298.9" cy="471.0" r="2.6" fill="#8280f7" stroke="#241cf0" stroke-width="0.9"/><circle cx="292.2" cy="474.4" r="2.6" fill="#8280f7" stroke="#241cf0" stroke-width="0.9"/><circle cx="305.6" cy="474.4" r="2.6" fill="#8280f7" stroke="#241cf0" stroke-width="0.9"/><circle cx="302.0" cy="477.0" r="2.6" fill="#8280f7" stroke="#241cf0" stroke-width="0.9"/><circle cx="298.9" cy="479.2" r="2.6" fill="#8280f7" stroke="#241cf0" stroke-width="0.9"/><circle cx="295.8" cy="481.1" r="2.6" fill="#8280f7" stroke="#241cf0" stroke-width="0.9"/><circle cx="285.8" cy="485.4" r="2.6" fill="#8280f7" stroke="#241cf0" stroke-width="0.9"/><circle cx="302.0" cy="485.4" r="2.6" fill="#8280f7" stroke="#241cf0" stroke-width="0.9"/><circle cx="289.4" cy="488.3" r="2.6" fill="#8280f7" stroke="#241cf0" stroke-width="0.9"/><circle cx="295.8" cy="488.3" r="2.6" fill="#8280f7" stroke="#241cf0" stroke-width="0.9"/><circle cx="305.6" cy="488.8" r="2.6" fill="#8280f7" stroke="#241cf0" stroke-width="0.9"/><circle cx="312.1" cy="489.5" r="2.6" fill="#8280f7" stroke="#241cf0" stroke-width="0.9"/><circle cx="285.8" cy="490.2" r="2.6" fill="#8280f7" stroke="#241cf0" stroke-width="0.9"/><circle cx="292.2" cy="490.7" r="2.6" fill="#8280f7" stroke="#241cf0" stroke-width="0.9"/><circle cx="298.9" cy="490.7" r="2.6" fill="#8280f7" stroke="#241cf0" stroke-width="0.9"/><circle cx="308.5" cy="490.2" r="2.6" fill="#8280f7" stroke="#241cf0" stroke-width="0.9"/><circle cx="289.4" cy="493.1" r="2.6" fill="#8280f7" stroke="#241cf0" stroke-width="0.9"/><circle cx="302.0" cy="492.6" r="2.6" fill="#8280f7" stroke="#241cf0" stroke-width="0.9"/><circle cx="295.8" cy="494.3" r="2.6" fill="#8280f7" stroke="#241cf0" stroke-width="0.9"/><circle cx="292.2" cy="496.7" r="2.6" fill="#8280f7" stroke="#241cf0" stroke-width="0.9"/><circle cx="298.9" cy="497.4" r="2.6" fill="#8280f7" stroke="#241cf0" stroke-width="0.9"/><circle cx="305.6" cy="498.6" r="2.6" fill="#8280f7" stroke="#241cf0" stroke-width="0.9"/><circle cx="298.9" cy="500.3" r="2.6" fill="#8280f7" stroke="#241cf0" stroke-width="0.9"/><circle cx="297.0" cy="505.0" r="2.6" fill="#8280f7" stroke="#241cf0" stroke-width="0.9"/><circle cx="300.6" cy="504.6" r="2.6" fill="#8280f7" stroke="#241cf0" stroke-width="0.9"/>
<path d="M321 522.2 V483.5 H351.5 V522.2" fill="none" stroke="#f0742c" stroke-width="1.5"/>
<path d="M336.3 480.5 V486.5 M330.3 480.5 H342.3 M330.3 486.5 H342.3" stroke="#f0742c" stroke-width="1" fill="none"/>
<circle cx="336.5" cy="429.7" r="2.6" fill="#f7c696" stroke="#ee873a" stroke-width="0.9"/><circle cx="336.5" cy="441.7" r="2.6" fill="#f7c696" stroke="#ee873a" stroke-width="0.9"/><circle cx="331.2" cy="462.7" r="2.6" fill="#f7c696" stroke="#ee873a" stroke-width="0.9"/><circle cx="334.8" cy="461.5" r="2.6" fill="#f7c696" stroke="#ee873a" stroke-width="0.9"/><circle cx="342.0" cy="463.9" r="2.6" fill="#f7c696" stroke="#ee873a" stroke-width="0.9"/><circle cx="334.8" cy="467.5" r="2.6" fill="#f7c696" stroke="#ee873a" stroke-width="0.9"/><circle cx="331.2" cy="475.1" r="2.6" fill="#f7c696" stroke="#ee873a" stroke-width="0.9"/><circle cx="342.0" cy="477.5" r="2.6" fill="#f7c696" stroke="#ee873a" stroke-width="0.9"/><circle cx="338.4" cy="479.2" r="2.6" fill="#f7c696" stroke="#ee873a" stroke-width="0.9"/><circle cx="334.8" cy="479.9" r="2.6" fill="#f7c696" stroke="#ee873a" stroke-width="0.9"/><circle cx="346.1" cy="480.4" r="2.6" fill="#f7c696" stroke="#ee873a" stroke-width="0.9"/><circle cx="331.2" cy="483.0" r="2.6" fill="#f7c696" stroke="#ee873a" stroke-width="0.9"/><circle cx="325.2" cy="484.7" r="2.6" fill="#f7c696" stroke="#ee873a" stroke-width="0.9"/><circle cx="328.1" cy="485.9" r="2.6" fill="#f7c696" stroke="#ee873a" stroke-width="0.9"/><circle cx="338.4" cy="487.1" r="2.6" fill="#f7c696" stroke="#ee873a" stroke-width="0.9"/><circle cx="342.0" cy="488.3" r="2.6" fill="#f7c696" stroke="#ee873a" stroke-width="0.9"/><circle cx="346.1" cy="488.3" r="2.6" fill="#f7c696" stroke="#ee873a" stroke-width="0.9"/><circle cx="334.8" cy="489.2" r="2.6" fill="#f7c696" stroke="#ee873a" stroke-width="0.9"/><circle cx="327.2" cy="491.9" r="2.6" fill="#f7c696" stroke="#ee873a" stroke-width="0.9"/><circle cx="331.2" cy="493.1" r="2.6" fill="#f7c696" stroke="#ee873a" stroke-width="0.9"/><circle cx="323.6" cy="494.3" r="2.6" fill="#f7c696" stroke="#ee873a" stroke-width="0.9"/><circle cx="349.2" cy="493.8" r="2.6" fill="#f7c696" stroke="#ee873a" stroke-width="0.9"/><circle cx="342.0" cy="491.4" r="2.6" fill="#f7c696" stroke="#ee873a" stroke-width="0.9"/><circle cx="327.2" cy="497.9" r="2.6" fill="#f7c696" stroke="#ee873a" stroke-width="0.9"/><circle cx="334.8" cy="498.6" r="2.6" fill="#f7c696" stroke="#ee873a" stroke-width="0.9"/><circle cx="338.4" cy="497.4" r="2.6" fill="#f7c696" stroke="#ee873a" stroke-width="0.9"/><circle cx="342.0" cy="498.3" r="2.6" fill="#f7c696" stroke="#ee873a" stroke-width="0.9"/><circle cx="346.1" cy="497.9" r="2.6" fill="#f7c696" stroke="#ee873a" stroke-width="0.9"/><circle cx="338.4" cy="507.4" r="2.6" fill="#f7c696" stroke="#ee873a" stroke-width="0.9"/><circle cx="334.8" cy="511.0" r="2.6" fill="#f7c696" stroke="#ee873a" stroke-width="0.9"/>
<path d="M261.4 391.8 V377.3 H336.5 V423.7" fill="none" stroke="#151515" stroke-width="1.0"/>
<path d="M261.4 401.8 V396.9 H298.9 V459.6" fill="none" stroke="#151515" stroke-width="1.0"/>
<text x="298.9" y="372.8" font-size="8.5" text-anchor="middle" fill="#000" font-weight="bold" >0.0009</text>
<text x="280.0" y="392.5" font-size="8.5" text-anchor="middle" fill="#000" font-weight="bold" >0.0002</text>
</g>
<g id="panelG">
<text x="399.8" y="357.6" font-size="12.5" text-anchor="start" fill="#000" font-weight="bold" >G</text>
<path d="M425.4 403.7 V522.2 " stroke="#000" stroke-width="1.4" fill="none"/><line x1="424.7" y1="522.2" x2="543.7" y2="522.2" stroke="#000" stroke-width="1.4"/><line x1="421.79999999999995" y1="522.2" x2="425.4" y2="522.2" stroke="#000" stroke-width="1.4"/><text x="420.6" y="525.5" font-size="9.2" text-anchor="end" fill="#000" font-weight="bold" >0</text><line x1="421.79999999999995" y1="492.8" x2="425.4" y2="492.8" stroke="#000" stroke-width="1.4"/><text x="420.6" y="496.1" font-size="9.2" text-anchor="end" fill="#000" font-weight="bold" >1</text><line x1="421.79999999999995" y1="463.3" x2="425.4" y2="463.3" stroke="#000" stroke-width="1.4"/><text x="420.6" y="466.6" font-size="9.2" text-anchor="end" fill="#000" font-weight="bold" >2</text><line x1="421.79999999999995" y1="433.9" x2="425.4" y2="433.9" stroke="#000" stroke-width="1.4"/><text x="420.6" y="437.2" font-size="9.2" text-anchor="end" fill="#000" font-weight="bold" >3</text><line x1="421.79999999999995" y1="404.4" x2="425.4" y2="404.4" stroke="#000" stroke-width="1.4"/><text x="420.6" y="407.7" font-size="9.2" text-anchor="end" fill="#000" font-weight="bold" >4</text><line x1="447.3" y1="522.2" x2="447.3" y2="526.0" stroke="#000" stroke-width="1.4"/><text x="447.3" y="535.7" font-size="9.3" text-anchor="middle" fill="#000" font-weight="bold" >CON-</text><text x="447.3" y="546.9" font-size="9.3" text-anchor="middle" fill="#000" font-weight="bold" >CHOW</text><line x1="484.4" y1="522.2" x2="484.4" y2="526.0" stroke="#000" stroke-width="1.4"/><text x="484.4" y="535.7" font-size="9.3" text-anchor="middle" fill="#000" font-weight="bold" >STZ-</text><text x="484.4" y="546.9" font-size="9.3" text-anchor="middle" fill="#000" font-weight="bold" >CHOW</text><line x1="521.5" y1="522.2" x2="521.5" y2="526.0" stroke="#000" stroke-width="1.4"/><text x="521.5" y="535.7" font-size="9.3" text-anchor="middle" fill="#000" font-weight="bold" >STZ-</text><text x="521.5" y="546.9" font-size="9.3" text-anchor="middle" fill="#000" font-weight="bold" >KETO</text><text x="411.0" y="461.5" font-size="9.35" text-anchor="middle" fill="#000" font-weight="bold" transform="rotate(-90 411 461.5)">Blood Ketones (mM)</text>
<path d="M432 522.2 V508 H462.4 V522.2" fill="none" stroke="#808080" stroke-width="1.1"/>
<path d="M447.2 507 V509 M441.2 507 H453.2 M441.2 509 H453.2" stroke="#808080" stroke-width="1" fill="none"/>
<circle cx="444.2" cy="498.6" r="2.6" fill="#e1e1e1" stroke="#828282" stroke-width="0.9"/><circle cx="447.4" cy="498.6" r="2.6" fill="#e1e1e1" stroke="#828282" stroke-width="0.9"/><circle cx="450.6" cy="498.6" r="2.6" fill="#e1e1e1" stroke="#828282" stroke-width="0.9"/><circle cx="433.8" cy="504.5" r="2.6" fill="#e1e1e1" stroke="#828282" stroke-width="0.9"/><circle cx="437.2" cy="504.5" r="2.6" fill="#e1e1e1" stroke="#828282" stroke-width="0.9"/><circle cx="440.5" cy="504.5" r="2.6" fill="#e1e1e1" stroke="#828282" stroke-width="0.9"/><circle cx="443.9" cy="504.5" r="2.6" fill="#e1e1e1" stroke="#828282" stroke-width="0.9"/><circle cx="447.3" cy="504.5" r="2.6" fill="#e1e1e1" stroke="#828282" stroke-width="0.9"/><circle cx="450.7" cy="504.5" r="2.6" fill="#e1e1e1" stroke="#828282" stroke-width="0.9"/><circle cx="454.0" cy="504.5" r="2.6" fill="#e1e1e1" stroke="#828282" stroke-width="0.9"/><circle cx="457.4" cy="504.5" r="2.6" fill="#e1e1e1" stroke="#828282" stroke-width="0.9"/><circle cx="460.8" cy="504.5" r="2.6" fill="#e1e1e1" stroke="#828282" stroke-width="0.9"/><circle cx="438.8" cy="507.5" r="2.6" fill="#e1e1e1" stroke="#828282" stroke-width="0.9"/><circle cx="445.5" cy="507.5" r="2.6" fill="#e1e1e1" stroke="#828282" stroke-width="0.9"/><circle cx="452.0" cy="507.5" r="2.6" fill="#e1e1e1" stroke="#828282" stroke-width="0.9"/><circle cx="458.6" cy="507.5" r="2.6" fill="#e1e1e1" stroke="#828282" stroke-width="0.9"/><circle cx="435.5" cy="510.4" r="2.6" fill="#e1e1e1" stroke="#828282" stroke-width="0.9"/><circle cx="442.0" cy="510.4" r="2.6" fill="#e1e1e1" stroke="#828282" stroke-width="0.9"/><circle cx="448.5" cy="510.4" r="2.6" fill="#e1e1e1" stroke="#828282" stroke-width="0.9"/><circle cx="455.0" cy="510.4" r="2.6" fill="#e1e1e1" stroke="#828282" stroke-width="0.9"/><circle cx="458.3" cy="510.4" r="2.6" fill="#e1e1e1" stroke="#828282" stroke-width="0.9"/><circle cx="438.8" cy="513.4" r="2.6" fill="#e1e1e1" stroke="#828282" stroke-width="0.9"/><circle cx="445.3" cy="513.4" r="2.6" fill="#e1e1e1" stroke="#828282" stroke-width="0.9"/><circle cx="451.8" cy="513.4" r="2.6" fill="#e1e1e1" stroke="#828282" stroke-width="0.9"/><circle cx="457.2" cy="513.4" r="2.6" fill="#e1e1e1" stroke="#828282" stroke-width="0.9"/><circle cx="448.5" cy="516.3" r="2.6" fill="#e1e1e1" stroke="#828282" stroke-width="0.9"/><circle cx="451.7" cy="516.3" r="2.6" fill="#e1e1e1" stroke="#828282" stroke-width="0.9"/>
<path d="M469.2 522.2 V507.4 H499.4 V522.2" fill="none" stroke="#2a22f0" stroke-width="1.6"/>
<path d="M484.3 506.2 V508.59999999999997 M478.3 506.2 H490.3 M478.3 508.59999999999997 H490.3" stroke="#2a22f0" stroke-width="1" fill="none"/>
<circle cx="485.6" cy="489.5" r="2.6" fill="#8280f7" stroke="#241cf0" stroke-width="0.9"/><circle cx="483.2" cy="492.6" r="2.6" fill="#8280f7" stroke="#241cf0" stroke-width="0.9"/><circle cx="484.6" cy="497.9" r="2.6" fill="#8280f7" stroke="#241cf0" stroke-width="0.9"/><circle cx="471.5" cy="501.6" r="2.6" fill="#8280f7" stroke="#241cf0" stroke-width="0.9"/><circle cx="481.5" cy="501.6" r="2.6" fill="#8280f7" stroke="#241cf0" stroke-width="0.9"/><circle cx="489.9" cy="501.6" r="2.6" fill="#8280f7" stroke="#241cf0" stroke-width="0.9"/><circle cx="495.2" cy="501.6" r="2.6" fill="#8280f7" stroke="#241cf0" stroke-width="0.9"/><circle cx="498.3" cy="501.6" r="2.6" fill="#8280f7" stroke="#241cf0" stroke-width="0.9"/><circle cx="471.5" cy="504.5" r="2.6" fill="#8280f7" stroke="#241cf0" stroke-width="0.9"/><circle cx="474.8" cy="504.5" r="2.6" fill="#8280f7" stroke="#241cf0" stroke-width="0.9"/><circle cx="477.9" cy="504.5" r="2.6" fill="#8280f7" stroke="#241cf0" stroke-width="0.9"/><circle cx="481.5" cy="504.5" r="2.6" fill="#8280f7" stroke="#241cf0" stroke-width="0.9"/><circle cx="484.6" cy="504.5" r="2.6" fill="#8280f7" stroke="#241cf0" stroke-width="0.9"/><circle cx="488.0" cy="504.5" r="2.6" fill="#8280f7" stroke="#241cf0" stroke-width="0.9"/><circle cx="493.5" cy="504.5" r="2.6" fill="#8280f7" stroke="#241cf0" stroke-width="0.9"/><circle cx="497.1" cy="504.5" r="2.6" fill="#8280f7" stroke="#241cf0" stroke-width="0.9"/><circle cx="471.5" cy="507.5" r="2.6" fill="#8280f7" stroke="#241cf0" stroke-width="0.9"/><circle cx="474.8" cy="507.5" r="2.6" fill="#8280f7" stroke="#241cf0" stroke-width="0.9"/><circle cx="478.4" cy="507.5" r="2.6" fill="#8280f7" stroke="#241cf0" stroke-width="0.9"/><circle cx="482.0" cy="507.5" r="2.6" fill="#8280f7" stroke="#241cf0" stroke-width="0.9"/><circle cx="485.1" cy="507.5" r="2.6" fill="#8280f7" stroke="#241cf0" stroke-width="0.9"/><circle cx="488.7" cy="507.5" r="2.6" fill="#8280f7" stroke="#241cf0" stroke-width="0.9"/><circle cx="492.3" cy="507.5" r="2.6" fill="#8280f7" stroke="#241cf0" stroke-width="0.9"/><circle cx="495.9" cy="507.5" r="2.6" fill="#8280f7" stroke="#241cf0" stroke-width="0.9"/><circle cx="473.2" cy="510.4" r="2.6" fill="#8280f7" stroke="#241cf0" stroke-width="0.9"/><circle cx="477.9" cy="510.4" r="2.6" fill="#8280f7" stroke="#241cf0" stroke-width="0.9"/><circle cx="481.5" cy="510.4" r="2.6" fill="#8280f7" stroke="#241cf0" stroke-width="0.9"/><circle cx="485.1" cy="510.4" r="2.6" fill="#8280f7" stroke="#241cf0" stroke-width="0.9"/><circle cx="471.5" cy="513.4" r="2.6" fill="#8280f7" stroke="#241cf0" stroke-width="0.9"/><circle cx="481.5" cy="513.4" r="2.6" fill="#8280f7" stroke="#241cf0" stroke-width="0.9"/><circle cx="486.3" cy="513.4" r="2.6" fill="#8280f7" stroke="#241cf0" stroke-width="0.9"/><circle cx="489.9" cy="513.4" r="2.6" fill="#8280f7" stroke="#241cf0" stroke-width="0.9"/><circle cx="493.5" cy="513.4" r="2.6" fill="#8280f7" stroke="#241cf0" stroke-width="0.9"/><circle cx="497.1" cy="513.4" r="2.6" fill="#8280f7" stroke="#241cf0" stroke-width="0.9"/>
<path d="M506.3 522.2 V477.5 H536.6 V522.2" fill="none" stroke="#f0742c" stroke-width="1.5"/>
<path d="M521.5 473.2 V481.8 M514.0 473.2 H529.0 M514.0 481.8 H529.0" stroke="#f0742c" stroke-width="1" fill="none"/>
<circle cx="521.7" cy="410.6" r="2.6" fill="#f7c696" stroke="#ee873a" stroke-width="0.9"/><circle cx="521.7" cy="416.5" r="2.6" fill="#f7c696" stroke="#ee873a" stroke-width="0.9"/><circle cx="519.3" cy="451.7" r="2.6" fill="#f7c696" stroke="#ee873a" stroke-width="0.9"/><circle cx="524.6" cy="451.7" r="2.6" fill="#f7c696" stroke="#ee873a" stroke-width="0.9"/><circle cx="519.3" cy="466.1" r="2.6" fill="#f7c696" stroke="#ee873a" stroke-width="0.9"/><circle cx="524.6" cy="466.1" r="2.6" fill="#f7c696" stroke="#ee873a" stroke-width="0.9"/><circle cx="509.0" cy="474.7" r="2.6" fill="#f7c696" stroke="#ee873a" stroke-width="0.9"/><circle cx="513.8" cy="474.7" r="2.6" fill="#f7c696" stroke="#ee873a" stroke-width="0.9"/><circle cx="529.4" cy="478.0" r="2.6" fill="#f7c696" stroke="#ee873a" stroke-width="0.9"/><circle cx="534.9" cy="478.0" r="2.6" fill="#f7c696" stroke="#ee873a" stroke-width="0.9"/><circle cx="513.8" cy="480.6" r="2.6" fill="#f7c696" stroke="#ee873a" stroke-width="0.9"/><circle cx="519.3" cy="480.6" r="2.6" fill="#f7c696" stroke="#ee873a" stroke-width="0.9"/><circle cx="524.6" cy="481.1" r="2.6" fill="#f7c696" stroke="#ee873a" stroke-width="0.9"/><circle cx="509.0" cy="484.2" r="2.6" fill="#f7c696" stroke="#ee873a" stroke-width="0.9"/><circle cx="513.8" cy="486.6" r="2.6" fill="#f7c696" stroke="#ee873a" stroke-width="0.9"/><circle cx="519.3" cy="486.6" r="2.6" fill="#f7c696" stroke="#ee873a" stroke-width="0.9"/><circle cx="524.6" cy="486.6" r="2.6" fill="#f7c696" stroke="#ee873a" stroke-width="0.9"/><circle cx="534.9" cy="486.6" r="2.6" fill="#f7c696" stroke="#ee873a" stroke-width="0.9"/><circle cx="509.0" cy="489.5" r="2.6" fill="#f7c696" stroke="#ee873a" stroke-width="0.9"/><circle cx="529.4" cy="490.0" r="2.6" fill="#f7c696" stroke="#ee873a" stroke-width="0.9"/><circle cx="524.6" cy="492.6" r="2.6" fill="#f7c696" stroke="#ee873a" stroke-width="0.9"/><circle cx="509.0" cy="495.5" r="2.6" fill="#f7c696" stroke="#ee873a" stroke-width="0.9"/><circle cx="519.3" cy="495.5" r="2.6" fill="#f7c696" stroke="#ee873a" stroke-width="0.9"/><circle cx="529.4" cy="495.5" r="2.6" fill="#f7c696" stroke="#ee873a" stroke-width="0.9"/><circle cx="534.9" cy="495.5" r="2.6" fill="#f7c696" stroke="#ee873a" stroke-width="0.9"/><circle cx="524.6" cy="498.3" r="2.6" fill="#f7c696" stroke="#ee873a" stroke-width="0.9"/><circle cx="519.3" cy="501.0" r="2.6" fill="#f7c696" stroke="#ee873a" stroke-width="0.9"/>
<path d="M447.4 492.4 V380.4 H521.5 V385.6" fill="none" stroke="#151515" stroke-width="1.0"/>
<path d="M484.4 483.8 V400.3 H521.5 V405.4" fill="none" stroke="#151515" stroke-width="1.0"/>
<text x="484.4" y="376.2" font-size="8.5" text-anchor="middle" fill="#000" font-weight="bold" >&lt;0.0001</text>
<text x="502.9" y="396.1" font-size="8.5" text-anchor="middle" fill="#000" font-weight="bold" >&lt;0.0001</text>
</g>
</svg>
</body></html>
